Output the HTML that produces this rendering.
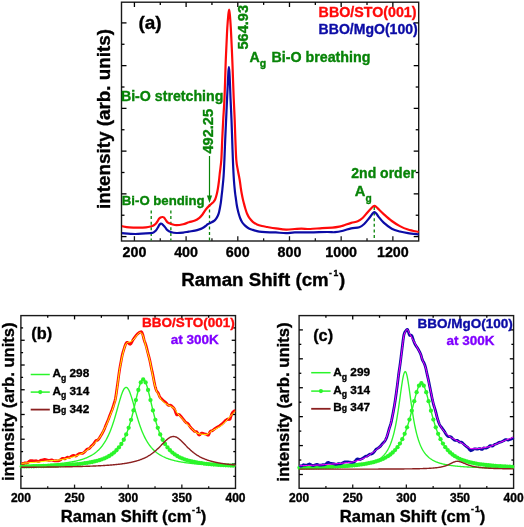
<!DOCTYPE html>
<html><head><meta charset="utf-8"><style>
html,body{margin:0;padding:0;background:#fff;width:524px;height:527px;overflow:hidden}
svg{display:block;font-family:"Liberation Sans", sans-serif;filter:blur(0.3px)}
</style></head><body>
<svg width="524" height="527" viewBox="0 0 524 527">
<rect width="524" height="527" fill="#fff"/>
<rect x="121.5" y="2.2" width="297.2" height="238.8" fill="none" stroke="#1a1a1a" stroke-width="1.4"/>
<line x1="134.42" y1="241" x2="134.42" y2="236.2" stroke="#1a1a1a" stroke-width="1.3"/>
<line x1="134.42" y1="2.2" x2="134.42" y2="7" stroke="#000" stroke-width="1.3"/>
<line x1="186.11" y1="241" x2="186.11" y2="236.2" stroke="#1a1a1a" stroke-width="1.3"/>
<line x1="186.11" y1="2.2" x2="186.11" y2="7" stroke="#000" stroke-width="1.3"/>
<line x1="237.80" y1="241" x2="237.80" y2="236.2" stroke="#1a1a1a" stroke-width="1.3"/>
<line x1="237.80" y1="2.2" x2="237.80" y2="7" stroke="#000" stroke-width="1.3"/>
<line x1="289.48" y1="241" x2="289.48" y2="236.2" stroke="#1a1a1a" stroke-width="1.3"/>
<line x1="289.48" y1="2.2" x2="289.48" y2="7" stroke="#000" stroke-width="1.3"/>
<line x1="341.17" y1="241" x2="341.17" y2="236.2" stroke="#1a1a1a" stroke-width="1.3"/>
<line x1="341.17" y1="2.2" x2="341.17" y2="7" stroke="#000" stroke-width="1.3"/>
<line x1="392.86" y1="241" x2="392.86" y2="236.2" stroke="#1a1a1a" stroke-width="1.3"/>
<line x1="392.86" y1="2.2" x2="392.86" y2="7" stroke="#000" stroke-width="1.3"/>
<line x1="160.27" y1="241" x2="160.27" y2="238.3" stroke="#1a1a1a" stroke-width="1.3"/>
<line x1="160.27" y1="2.2" x2="160.27" y2="4.9" stroke="#000" stroke-width="1.3"/>
<line x1="211.95" y1="241" x2="211.95" y2="238.3" stroke="#1a1a1a" stroke-width="1.3"/>
<line x1="211.95" y1="2.2" x2="211.95" y2="4.9" stroke="#000" stroke-width="1.3"/>
<line x1="263.64" y1="241" x2="263.64" y2="238.3" stroke="#1a1a1a" stroke-width="1.3"/>
<line x1="263.64" y1="2.2" x2="263.64" y2="4.9" stroke="#000" stroke-width="1.3"/>
<line x1="315.33" y1="241" x2="315.33" y2="238.3" stroke="#1a1a1a" stroke-width="1.3"/>
<line x1="315.33" y1="2.2" x2="315.33" y2="4.9" stroke="#000" stroke-width="1.3"/>
<line x1="367.01" y1="241" x2="367.01" y2="238.3" stroke="#1a1a1a" stroke-width="1.3"/>
<line x1="367.01" y1="2.2" x2="367.01" y2="4.9" stroke="#000" stroke-width="1.3"/>
<line x1="121.5" y1="236.60" x2="126.5" y2="236.60" stroke="#000" stroke-width="1.3"/>
<line x1="418.7" y1="236.60" x2="413.7" y2="236.60" stroke="#000" stroke-width="1.3"/>
<line x1="121.5" y1="193.86" x2="126.5" y2="193.86" stroke="#000" stroke-width="1.3"/>
<line x1="418.7" y1="193.86" x2="413.7" y2="193.86" stroke="#000" stroke-width="1.3"/>
<line x1="121.5" y1="151.12" x2="126.5" y2="151.12" stroke="#000" stroke-width="1.3"/>
<line x1="418.7" y1="151.12" x2="413.7" y2="151.12" stroke="#000" stroke-width="1.3"/>
<line x1="121.5" y1="108.38" x2="126.5" y2="108.38" stroke="#000" stroke-width="1.3"/>
<line x1="418.7" y1="108.38" x2="413.7" y2="108.38" stroke="#000" stroke-width="1.3"/>
<line x1="121.5" y1="65.64" x2="126.5" y2="65.64" stroke="#000" stroke-width="1.3"/>
<line x1="418.7" y1="65.64" x2="413.7" y2="65.64" stroke="#000" stroke-width="1.3"/>
<line x1="121.5" y1="22.90" x2="126.5" y2="22.90" stroke="#000" stroke-width="1.3"/>
<line x1="418.7" y1="22.90" x2="413.7" y2="22.90" stroke="#000" stroke-width="1.3"/>
<line x1="121.5" y1="215.23" x2="124.5" y2="215.23" stroke="#000" stroke-width="1.3"/>
<line x1="418.7" y1="215.23" x2="415.7" y2="215.23" stroke="#000" stroke-width="1.3"/>
<line x1="121.5" y1="172.49" x2="124.5" y2="172.49" stroke="#000" stroke-width="1.3"/>
<line x1="418.7" y1="172.49" x2="415.7" y2="172.49" stroke="#000" stroke-width="1.3"/>
<line x1="121.5" y1="129.75" x2="124.5" y2="129.75" stroke="#000" stroke-width="1.3"/>
<line x1="418.7" y1="129.75" x2="415.7" y2="129.75" stroke="#000" stroke-width="1.3"/>
<line x1="121.5" y1="87.01" x2="124.5" y2="87.01" stroke="#000" stroke-width="1.3"/>
<line x1="418.7" y1="87.01" x2="415.7" y2="87.01" stroke="#000" stroke-width="1.3"/>
<line x1="121.5" y1="44.27" x2="124.5" y2="44.27" stroke="#000" stroke-width="1.3"/>
<line x1="418.7" y1="44.27" x2="415.7" y2="44.27" stroke="#000" stroke-width="1.3"/>
<text x="134.422" y="257.4" font-size="14.3" fill="#000" text-anchor="middle" font-weight="bold" stroke="#000" stroke-width="0.35">200</text>
<text x="186.109" y="257.4" font-size="14.3" fill="#000" text-anchor="middle" font-weight="bold" stroke="#000" stroke-width="0.35">400</text>
<text x="237.796" y="257.4" font-size="14.3" fill="#000" text-anchor="middle" font-weight="bold" stroke="#000" stroke-width="0.35">600</text>
<text x="289.483" y="257.4" font-size="14.3" fill="#000" text-anchor="middle" font-weight="bold" stroke="#000" stroke-width="0.35">800</text>
<text x="341.17" y="257.4" font-size="14.3" fill="#000" text-anchor="middle" font-weight="bold" stroke="#000" stroke-width="0.35">1000</text>
<text x="392.857" y="257.4" font-size="14.3" fill="#000" text-anchor="middle" font-weight="bold" stroke="#000" stroke-width="0.35">1200</text>
<line x1="151.22" y1="210.5" x2="151.22" y2="240.5" stroke="#088408" stroke-width="1.3" stroke-dasharray="3,2.6"/>
<line x1="170.86" y1="210.5" x2="170.86" y2="240.5" stroke="#088408" stroke-width="1.3" stroke-dasharray="3,2.6"/>
<line x1="209.50" y1="204" x2="209.50" y2="240.5" stroke="#088408" stroke-width="1.3" stroke-dasharray="3,2.6"/>
<line x1="374.25" y1="207" x2="374.25" y2="240.5" stroke="#088408" stroke-width="1.3" stroke-dasharray="3,2.6"/>
<g fill="none" stroke-width="2.2" stroke-linejoin="round">
<path d="M122.00,226.20 C123.20,226.40 126.23,227.15 129.20,227.40 C132.17,227.65 137.00,227.72 139.80,227.70 C142.60,227.68 144.22,227.50 146.00,227.30 C147.78,227.10 149.25,226.80 150.50,226.50 C151.75,226.20 152.58,226.00 153.50,225.50 C154.42,225.00 155.33,224.20 156.00,223.50 C156.67,222.80 157.00,222.08 157.50,221.30 C158.00,220.52 158.50,219.43 159.00,218.80 C159.50,218.17 159.95,217.80 160.50,217.50 C161.05,217.20 161.75,217.03 162.30,217.00 C162.85,216.97 163.35,217.00 163.80,217.30 C164.25,217.60 164.58,218.22 165.00,218.80 C165.42,219.38 165.87,220.22 166.30,220.80 C166.73,221.38 167.07,221.88 167.60,222.30 C168.13,222.72 168.77,222.97 169.50,223.30 C170.23,223.63 170.83,223.98 172.00,224.30 C173.17,224.62 174.63,225.22 176.50,225.20 C178.37,225.18 181.13,224.68 183.20,224.20 C185.27,223.72 186.93,222.90 188.90,222.30 C190.87,221.70 193.25,221.35 195.00,220.60 C196.75,219.85 198.15,218.82 199.40,217.80 C200.65,216.78 201.43,215.88 202.50,214.50 C203.57,213.12 204.57,211.07 205.80,209.50 C207.03,207.93 208.87,206.13 209.90,205.10 C210.93,204.07 211.38,203.85 212.00,203.30 C212.62,202.75 213.05,202.52 213.60,201.80 C214.15,201.08 214.77,200.30 215.30,199.00 C215.83,197.70 216.37,195.75 216.80,194.00 C217.23,192.25 217.55,190.58 217.90,188.50 C218.25,186.42 218.58,184.08 218.90,181.50 C219.22,178.92 219.40,176.58 219.80,173.00 C220.20,169.42 220.90,165.50 221.30,160.00 C221.70,154.50 221.88,146.67 222.20,140.00 C222.52,133.33 222.82,127.00 223.20,120.00 C223.58,113.00 224.10,107.17 224.50,98.00 C224.90,88.83 225.32,72.90 225.60,65.00 C225.88,57.10 226.02,54.77 226.20,50.60 C226.38,46.43 226.52,43.80 226.70,40.00 C226.88,36.20 227.03,31.97 227.30,27.80 C227.57,23.63 228.00,18.03 228.30,15.00 C228.60,11.97 228.83,9.60 229.10,9.60 C229.37,9.60 229.62,11.97 229.90,15.00 C230.18,18.03 230.55,23.63 230.80,27.80 C231.05,31.97 231.22,36.20 231.40,40.00 C231.58,43.80 231.72,46.43 231.90,50.60 C232.08,54.77 232.20,57.10 232.50,65.00 C232.80,72.90 233.33,88.83 233.70,98.00 C234.07,107.17 234.42,113.00 234.70,120.00 C234.98,127.00 235.13,133.33 235.40,140.00 C235.67,146.67 235.90,155.00 236.30,160.00 C236.70,165.00 237.23,166.67 237.80,170.00 C238.37,173.33 239.20,177.00 239.70,180.00 C240.20,183.00 240.47,185.75 240.80,188.00 C241.13,190.25 241.38,191.75 241.70,193.50 C242.02,195.25 242.35,196.92 242.70,198.50 C243.05,200.08 243.37,201.33 243.80,203.00 C244.23,204.67 244.75,206.70 245.30,208.50 C245.85,210.30 246.40,212.18 247.10,213.80 C247.80,215.42 248.55,216.87 249.50,218.20 C250.45,219.53 251.55,220.77 252.80,221.80 C254.05,222.83 255.48,223.70 257.00,224.40 C258.52,225.10 260.20,225.57 261.90,226.00 C263.60,226.43 264.88,226.60 267.20,227.00 C269.52,227.40 272.65,227.97 275.80,228.40 C278.95,228.83 282.95,229.50 286.10,229.60 C289.25,229.70 292.13,229.17 294.70,229.00 C297.27,228.83 298.93,228.60 301.50,228.60 C304.07,228.60 306.67,229.08 310.10,229.00 C313.53,228.92 318.38,228.32 322.10,228.10 C325.82,227.88 329.53,227.93 332.40,227.70 C335.27,227.47 337.52,227.05 339.30,226.70 C341.08,226.35 341.12,226.23 343.10,225.60 C345.08,224.97 348.77,223.62 351.20,222.90 C353.63,222.18 355.80,222.12 357.70,221.30 C359.60,220.48 360.98,219.47 362.60,218.00 C364.22,216.53 365.92,214.17 367.40,212.50 C368.88,210.83 370.53,209.02 371.50,208.00 C372.47,206.98 372.70,206.75 373.20,206.40 C373.70,206.05 374.05,205.87 374.50,205.90 C374.95,205.93 375.32,206.15 375.90,206.60 C376.48,207.05 376.70,207.35 378.00,208.60 C379.30,209.85 381.40,212.03 383.70,214.10 C386.00,216.17 389.10,219.00 391.80,221.00 C394.50,223.00 397.20,224.68 399.90,226.10 C402.60,227.52 404.87,228.52 408.00,229.50 C411.13,230.48 416.92,231.58 418.70,232.00" stroke="#ff0a0a"/>
<path d="M122.00,233.20 C124.22,233.33 130.55,234.00 135.30,234.00 C140.05,234.00 147.47,233.45 150.50,233.20 C153.53,232.95 152.67,232.88 153.50,232.50 C154.33,232.12 154.92,231.48 155.50,230.90 C156.08,230.32 156.52,229.72 157.00,229.00 C157.48,228.28 157.97,227.35 158.40,226.60 C158.83,225.85 159.20,225.00 159.60,224.50 C160.00,224.00 160.40,223.70 160.80,223.60 C161.20,223.50 161.58,223.62 162.00,223.90 C162.42,224.18 162.80,224.77 163.30,225.30 C163.80,225.83 164.32,226.28 165.00,227.10 C165.68,227.92 166.43,229.38 167.40,230.20 C168.37,231.02 169.28,231.53 170.80,232.00 C172.32,232.47 174.43,232.90 176.50,233.00 C178.57,233.10 181.17,232.83 183.20,232.60 C185.23,232.37 186.73,231.93 188.70,231.60 C190.67,231.27 193.22,230.97 195.00,230.60 C196.78,230.23 198.20,229.80 199.40,229.40 C200.60,229.00 201.17,228.77 202.20,228.20 C203.23,227.63 204.70,226.67 205.60,226.00 C206.50,225.33 206.67,224.78 207.60,224.20 C208.53,223.62 210.15,223.03 211.20,222.50 C212.25,221.97 213.18,221.50 213.90,221.00 C214.62,220.50 215.02,220.07 215.50,219.50 C215.98,218.93 216.37,218.35 216.80,217.60 C217.23,216.85 217.72,215.95 218.10,215.00 C218.48,214.05 218.78,213.15 219.10,211.90 C219.42,210.65 219.72,209.02 220.00,207.50 C220.28,205.98 220.53,204.72 220.80,202.80 C221.07,200.88 221.33,198.30 221.60,196.00 C221.87,193.70 222.07,192.33 222.40,189.00 C222.73,185.67 223.27,180.83 223.60,176.00 C223.93,171.17 224.13,166.00 224.40,160.00 C224.67,154.00 224.92,146.67 225.20,140.00 C225.48,133.33 225.78,127.00 226.10,120.00 C226.42,113.00 226.80,104.33 227.10,98.00 C227.40,91.67 227.68,86.33 227.90,82.00 C228.12,77.67 228.23,74.50 228.40,72.00 C228.57,69.50 228.73,67.00 228.90,67.00 C229.07,67.00 229.23,69.50 229.40,72.00 C229.57,74.50 229.72,77.67 229.90,82.00 C230.08,86.33 230.23,91.67 230.50,98.00 C230.77,104.33 231.22,113.00 231.50,120.00 C231.78,127.00 231.97,133.33 232.20,140.00 C232.43,146.67 232.62,153.33 232.90,160.00 C233.18,166.67 233.53,174.50 233.90,180.00 C234.27,185.50 234.78,190.00 235.10,193.00 C235.42,196.00 235.55,196.17 235.80,198.00 C236.05,199.83 236.32,202.22 236.60,204.00 C236.88,205.78 237.13,207.03 237.50,208.70 C237.87,210.37 238.33,212.37 238.80,214.00 C239.27,215.63 239.72,217.08 240.30,218.50 C240.88,219.92 241.55,221.35 242.30,222.50 C243.05,223.65 243.77,224.45 244.80,225.40 C245.83,226.35 247.17,227.45 248.50,228.20 C249.83,228.95 251.38,229.42 252.80,229.90 C254.22,230.38 255.48,230.78 257.00,231.10 C258.52,231.42 259.75,231.60 261.90,231.80 C264.05,232.00 267.58,232.20 269.90,232.30 C272.22,232.40 273.10,232.25 275.80,232.40 C278.50,232.55 282.95,233.20 286.10,233.20 C289.25,233.20 290.70,232.53 294.70,232.40 C298.70,232.27 304.67,232.47 310.10,232.40 C315.53,232.33 323.15,232.03 327.30,232.00 C331.45,231.97 332.37,232.42 335.00,232.20 C337.63,231.98 340.40,231.35 343.10,230.70 C345.80,230.05 348.50,228.88 351.20,228.30 C353.90,227.72 357.13,227.92 359.30,227.20 C361.47,226.48 362.53,225.53 364.20,224.00 C365.87,222.47 367.93,219.70 369.30,218.00 C370.67,216.30 371.55,214.77 372.40,213.80 C373.25,212.83 373.75,212.27 374.40,212.20 C375.05,212.13 375.62,212.67 376.30,213.40 C376.98,214.13 377.27,215.07 378.50,216.60 C379.73,218.13 381.48,220.58 383.70,222.60 C385.92,224.62 389.10,227.22 391.80,228.70 C394.50,230.18 397.20,230.77 399.90,231.50 C402.60,232.23 404.87,232.63 408.00,233.10 C411.13,233.57 416.92,234.10 418.70,234.30" stroke="#0c0ca6"/>
</g>
<line x1="209.5" y1="156" x2="209.5" y2="197" stroke="#088408" stroke-width="1.2"/>
<path d="M206.9,195.6 L212.1,195.6 L209.5,203 Z" fill="#088408"/>
<text x="138.4" y="28.5" font-size="19" fill="#000" text-anchor="start" font-weight="bold" stroke="#000" stroke-width="0.35">(a)</text>
<text x="318.6" y="16.6" font-size="14.25" fill="#ff0a0a" text-anchor="start" font-weight="bold" stroke="#ff0a0a" stroke-width="0.35">BBO/STO(001)</text>
<text x="318.6" y="34.4" font-size="14.05" fill="#0c0ca6" text-anchor="start" font-weight="bold" stroke="#0c0ca6" stroke-width="0.35">BBO/MgO(100)</text>
<text x="120.9" y="100.6" font-size="14.2" fill="#088408" text-anchor="start" font-weight="bold" stroke="#088408" stroke-width="0.35">Bi-O stretching</text>
<text x="121.8" y="204.5" font-size="13.2" fill="#088408" text-anchor="start" font-weight="bold" stroke="#088408" stroke-width="0.35">Bi-O bending</text>
<text x="351.3" y="177.6" font-size="14" fill="#088408" text-anchor="start" font-weight="bold" stroke="#088408" stroke-width="0.35">2nd order</text>
<text x="354.8" y="196" font-size="14.7" fill="#088408" font-weight="bold" stroke="#088408" stroke-width="0.35">A<tspan font-size="10.2" dx="0.2" dy="6.0">g</tspan></text>
<text x="249.4" y="61.6" font-size="14.2" fill="#088408" font-weight="bold" stroke="#088408" stroke-width="0.35">A<tspan font-size="10.5" dy="5.6">g</tspan><tspan dx="1.4" dy="-5.6" font-size="14.25"> Bi-O breathing</tspan></text>
<text x="248" y="49.6" font-size="14.6" fill="#088408" text-anchor="start" transform="rotate(-90 248 49.6)" font-weight="bold" stroke="#088408" stroke-width="0.35">564.93</text>
<text x="213.3" y="153.6" font-size="14.6" fill="#088408" text-anchor="start" transform="rotate(-90 213.3 153.6)" font-weight="bold" stroke="#088408" stroke-width="0.35">492.25</text>
<text x="110.3" y="209" font-size="18.85" fill="#000" text-anchor="start" transform="rotate(-90 110.3 209)" font-weight="bold" stroke="#000" stroke-width="0.35">intensity (arb. units)</text>
<text x="181.2" y="285.5" font-size="18.7" font-weight="bold" stroke="#000" stroke-width="0.35">Raman Shift (cm<tspan font-size="8.6" dx="0.3" dy="-10">-</tspan><tspan font-size="8.6" dx="1.6">1</tspan><tspan dx="0.9" dy="10">)</tspan></text>
<rect x="20.9" y="315.6" width="214.6" height="172.8" fill="none" stroke="#1a1a1a" stroke-width="1.4"/>
<line x1="74.55" y1="488.4" x2="74.55" y2="484.6" stroke="#1a1a1a" stroke-width="1.3"/>
<line x1="74.55" y1="315.6" x2="74.55" y2="319.4" stroke="#000" stroke-width="1.3"/>
<line x1="128.20" y1="488.4" x2="128.20" y2="484.6" stroke="#1a1a1a" stroke-width="1.3"/>
<line x1="128.20" y1="315.6" x2="128.20" y2="319.4" stroke="#000" stroke-width="1.3"/>
<line x1="181.85" y1="488.4" x2="181.85" y2="484.6" stroke="#1a1a1a" stroke-width="1.3"/>
<line x1="181.85" y1="315.6" x2="181.85" y2="319.4" stroke="#000" stroke-width="1.3"/>
<line x1="47.72" y1="488.4" x2="47.72" y2="486.2" stroke="#1a1a1a" stroke-width="1.3"/>
<line x1="47.72" y1="315.6" x2="47.72" y2="317.8" stroke="#000" stroke-width="1.3"/>
<line x1="101.38" y1="488.4" x2="101.38" y2="486.2" stroke="#1a1a1a" stroke-width="1.3"/>
<line x1="101.38" y1="315.6" x2="101.38" y2="317.8" stroke="#000" stroke-width="1.3"/>
<line x1="155.03" y1="488.4" x2="155.03" y2="486.2" stroke="#1a1a1a" stroke-width="1.3"/>
<line x1="155.03" y1="315.6" x2="155.03" y2="317.8" stroke="#000" stroke-width="1.3"/>
<line x1="208.68" y1="488.4" x2="208.68" y2="486.2" stroke="#1a1a1a" stroke-width="1.3"/>
<line x1="208.68" y1="315.6" x2="208.68" y2="317.8" stroke="#000" stroke-width="1.3"/>
<line x1="20.9" y1="340.27" x2="24.7" y2="340.27" stroke="#000" stroke-width="1.3"/>
<line x1="235.5" y1="340.27" x2="231.7" y2="340.27" stroke="#000" stroke-width="1.3"/>
<line x1="20.9" y1="365.01" x2="24.7" y2="365.01" stroke="#000" stroke-width="1.3"/>
<line x1="235.5" y1="365.01" x2="231.7" y2="365.01" stroke="#000" stroke-width="1.3"/>
<line x1="20.9" y1="389.75" x2="24.7" y2="389.75" stroke="#000" stroke-width="1.3"/>
<line x1="235.5" y1="389.75" x2="231.7" y2="389.75" stroke="#000" stroke-width="1.3"/>
<line x1="20.9" y1="414.49" x2="24.7" y2="414.49" stroke="#000" stroke-width="1.3"/>
<line x1="235.5" y1="414.49" x2="231.7" y2="414.49" stroke="#000" stroke-width="1.3"/>
<line x1="20.9" y1="439.23" x2="24.7" y2="439.23" stroke="#000" stroke-width="1.3"/>
<line x1="235.5" y1="439.23" x2="231.7" y2="439.23" stroke="#000" stroke-width="1.3"/>
<line x1="20.9" y1="463.97" x2="24.7" y2="463.97" stroke="#000" stroke-width="1.3"/>
<line x1="235.5" y1="463.97" x2="231.7" y2="463.97" stroke="#000" stroke-width="1.3"/>
<line x1="20.9" y1="327.90" x2="23.1" y2="327.90" stroke="#000" stroke-width="1.3"/>
<line x1="235.5" y1="327.90" x2="233.3" y2="327.90" stroke="#000" stroke-width="1.3"/>
<line x1="20.9" y1="352.64" x2="23.1" y2="352.64" stroke="#000" stroke-width="1.3"/>
<line x1="235.5" y1="352.64" x2="233.3" y2="352.64" stroke="#000" stroke-width="1.3"/>
<line x1="20.9" y1="377.38" x2="23.1" y2="377.38" stroke="#000" stroke-width="1.3"/>
<line x1="235.5" y1="377.38" x2="233.3" y2="377.38" stroke="#000" stroke-width="1.3"/>
<line x1="20.9" y1="402.12" x2="23.1" y2="402.12" stroke="#000" stroke-width="1.3"/>
<line x1="235.5" y1="402.12" x2="233.3" y2="402.12" stroke="#000" stroke-width="1.3"/>
<line x1="20.9" y1="426.86" x2="23.1" y2="426.86" stroke="#000" stroke-width="1.3"/>
<line x1="235.5" y1="426.86" x2="233.3" y2="426.86" stroke="#000" stroke-width="1.3"/>
<line x1="20.9" y1="451.60" x2="23.1" y2="451.60" stroke="#000" stroke-width="1.3"/>
<line x1="235.5" y1="451.60" x2="233.3" y2="451.60" stroke="#000" stroke-width="1.3"/>
<line x1="20.9" y1="476.34" x2="23.1" y2="476.34" stroke="#000" stroke-width="1.3"/>
<line x1="235.5" y1="476.34" x2="233.3" y2="476.34" stroke="#000" stroke-width="1.3"/>
<text x="20.9" y="501.7" font-size="12" fill="#000" text-anchor="middle" font-weight="bold" stroke="#000" stroke-width="0.35">200</text>
<text x="74.55" y="501.7" font-size="12" fill="#000" text-anchor="middle" font-weight="bold" stroke="#000" stroke-width="0.35">250</text>
<text x="128.2" y="501.7" font-size="12" fill="#000" text-anchor="middle" font-weight="bold" stroke="#000" stroke-width="0.35">300</text>
<text x="181.85" y="501.7" font-size="12" fill="#000" text-anchor="middle" font-weight="bold" stroke="#000" stroke-width="0.35">350</text>
<text x="235.5" y="501.7" font-size="12" fill="#000" text-anchor="middle" font-weight="bold" stroke="#000" stroke-width="0.35">400</text>
<path d="M20.90,465.63 L21.40,465.62 L21.90,465.61 L22.40,465.59 L22.90,465.58 L23.40,465.56 L23.90,465.55 L24.40,465.53 L24.90,465.52 L25.40,465.50 L25.90,465.49 L26.40,465.47 L26.90,465.46 L27.40,465.44 L27.90,465.42 L28.40,465.41 L28.90,465.39 L29.40,465.37 L29.90,465.35 L30.40,465.34 L30.90,465.32 L31.40,465.30 L31.90,465.28 L32.40,465.26 L32.90,465.24 L33.40,465.22 L33.90,465.20 L34.40,465.18 L34.90,465.16 L35.40,465.14 L35.90,465.12 L36.40,465.10 L36.90,465.08 L37.40,465.05 L37.90,465.03 L38.40,465.01 L38.90,464.98 L39.40,464.96 L39.90,464.94 L40.40,464.91 L40.90,464.89 L41.40,464.86 L41.90,464.84 L42.40,464.81 L42.90,464.78 L43.40,464.75 L43.90,464.73 L44.40,464.70 L44.90,464.67 L45.40,464.64 L45.90,464.61 L46.40,464.58 L46.90,464.55 L47.40,464.52 L47.90,464.49 L48.40,464.45 L48.90,464.42 L49.40,464.39 L49.90,464.35 L50.40,464.32 L50.90,464.28 L51.40,464.24 L51.90,464.21 L52.40,464.17 L52.90,464.13 L53.40,464.09 L53.90,464.05 L54.40,464.01 L54.90,463.97 L55.40,463.93 L55.90,463.88 L56.40,463.84 L56.90,463.79 L57.40,463.75 L57.90,463.70 L58.40,463.65 L58.90,463.60 L59.40,463.55 L59.90,463.50 L60.40,463.45 L60.90,463.39 L61.40,463.34 L61.90,463.28 L62.40,463.23 L62.90,463.17 L63.40,463.11 L63.90,463.05 L64.40,462.98 L64.90,462.92 L65.40,462.85 L65.90,462.79 L66.40,462.72 L66.90,462.65 L67.40,462.58 L67.90,462.50 L68.40,462.43 L68.90,462.35 L69.40,462.27 L69.90,462.19 L70.40,462.11 L70.90,462.02 L71.40,461.93 L71.90,461.85 L72.40,461.75 L72.90,461.66 L73.40,461.56 L73.90,461.46 L74.40,461.36 L74.90,461.26 L75.40,461.15 L75.90,461.04 L76.40,460.93 L76.90,460.81 L77.40,460.69 L77.90,460.57 L78.40,460.44 L78.90,460.31 L79.40,460.18 L79.90,460.04 L80.40,459.90 L80.90,459.76 L81.40,459.61 L81.90,459.45 L82.40,459.29 L82.90,459.13 L83.40,458.96 L83.90,458.79 L84.40,458.61 L84.90,458.42 L85.40,458.23 L85.90,458.04 L86.40,457.83 L86.90,457.62 L87.40,457.41 L87.90,457.18 L88.40,456.95 L88.90,456.71 L89.40,456.47 L89.90,456.21 L90.40,455.95 L90.90,455.67 L91.40,455.39 L91.90,455.10 L92.40,454.79 L92.90,454.48 L93.40,454.15 L93.90,453.82 L94.40,453.47 L94.90,453.10 L95.40,452.73 L95.90,452.34 L96.40,451.93 L96.90,451.51 L97.40,451.07 L97.90,450.62 L98.40,450.14 L98.90,449.65 L99.40,449.14 L99.90,448.61 L100.40,448.06 L100.90,447.48 L101.40,446.88 L101.90,446.26 L102.40,445.61 L102.90,444.93 L103.40,444.23 L103.90,443.50 L104.40,442.73 L104.90,441.94 L105.40,441.11 L105.90,440.24 L106.40,439.35 L106.90,438.41 L107.40,437.43 L107.90,436.42 L108.40,435.36 L108.90,434.26 L109.40,433.11 L109.90,431.92 L110.40,430.69 L110.90,429.40 L111.40,428.07 L111.90,426.69 L112.40,425.27 L112.90,423.79 L113.40,422.27 L113.90,420.70 L114.40,419.09 L114.90,417.44 L115.40,415.75 L115.90,414.03 L116.40,412.28 L116.90,410.50 L117.40,408.71 L117.90,406.92 L118.40,405.12 L118.90,403.34 L119.40,401.58 L119.90,399.86 L120.40,398.20 L120.90,396.59 L121.40,395.07 L121.90,393.65 L122.40,392.34 L122.90,391.15 L123.40,390.11 L123.90,389.22 L124.40,388.50 L124.90,387.95 L125.40,387.59 L125.90,387.42 L126.40,387.43 L126.90,387.65 L127.40,388.04 L127.90,388.63 L128.40,389.38 L128.90,390.30 L129.40,391.38 L129.90,392.59 L130.40,393.92 L130.90,395.37 L131.40,396.91 L131.90,398.52 L132.40,400.20 L132.90,401.93 L133.40,403.69 L133.90,405.48 L134.40,407.28 L134.90,409.07 L135.40,410.86 L135.90,412.63 L136.40,414.38 L136.90,416.09 L137.40,417.77 L137.90,419.42 L138.40,421.02 L138.90,422.58 L139.40,424.09 L139.90,425.56 L140.40,426.97 L140.90,428.34 L141.40,429.66 L141.90,430.94 L142.40,432.16 L142.90,433.34 L143.40,434.48 L143.90,435.57 L144.40,436.62 L144.90,437.63 L145.40,438.60 L145.90,439.53 L146.40,440.42 L146.90,441.28 L147.40,442.10 L147.90,442.89 L148.40,443.65 L148.90,444.37 L149.40,445.07 L149.90,445.74 L150.40,446.39 L150.90,447.00 L151.40,447.60 L151.90,448.17 L152.40,448.72 L152.90,449.24 L153.40,449.75 L153.90,450.24 L154.40,450.71 L154.90,451.16 L155.40,451.59 L155.90,452.01 L156.40,452.42 L156.90,452.80 L157.40,453.18 L157.90,453.54 L158.40,453.89 L158.90,454.22 L159.40,454.54 L159.90,454.86 L160.40,455.16 L160.90,455.45 L161.40,455.73 L161.90,456.00 L162.40,456.26 L162.90,456.52 L163.40,456.76 L163.90,457.00 L164.40,457.23 L164.90,457.45 L165.40,457.67 L165.90,457.87 L166.40,458.08 L166.90,458.27 L167.40,458.46 L167.90,458.64 L168.40,458.82 L168.90,459.00 L169.40,459.16 L169.90,459.33 L170.40,459.48 L170.90,459.64 L171.40,459.79 L171.90,459.93 L172.40,460.07 L172.90,460.21 L173.40,460.34 L173.90,460.47 L174.40,460.59 L174.90,460.72 L175.40,460.83 L175.90,460.95 L176.40,461.06 L176.90,461.17 L177.40,461.28 L177.90,461.38 L178.40,461.48 L178.90,461.58 L179.40,461.68 L179.90,461.77 L180.40,461.86 L180.90,461.95 L181.40,462.04 L181.90,462.12 L182.40,462.21 L182.90,462.29 L183.40,462.37 L183.90,462.44 L184.40,462.52 L184.90,462.59 L185.40,462.66 L185.90,462.73 L186.40,462.80 L186.90,462.87 L187.40,462.93 L187.90,463.00 L188.40,463.06 L188.90,463.12 L189.40,463.18 L189.90,463.24 L190.40,463.29 L190.90,463.35 L191.40,463.40 L191.90,463.46 L192.40,463.51 L192.90,463.56 L193.40,463.61 L193.90,463.66 L194.40,463.71 L194.90,463.76 L195.40,463.80 L195.90,463.85 L196.40,463.89 L196.90,463.93 L197.40,463.98 L197.90,464.02 L198.40,464.06 L198.90,464.10 L199.40,464.14 L199.90,464.18 L200.40,464.21 L200.90,464.25 L201.40,464.29 L201.90,464.32 L202.40,464.36 L202.90,464.39 L203.40,464.43 L203.90,464.46 L204.40,464.49 L204.90,464.52 L205.40,464.56 L205.90,464.59 L206.40,464.62 L206.90,464.65 L207.40,464.68 L207.90,464.70 L208.40,464.73 L208.90,464.76 L209.40,464.79 L209.90,464.81 L210.40,464.84 L210.90,464.87 L211.40,464.89 L211.90,464.92 L212.40,464.94 L212.90,464.97 L213.40,464.99 L213.90,465.01 L214.40,465.04 L214.90,465.06 L215.40,465.08 L215.90,465.10 L216.40,465.12 L216.90,465.14 L217.40,465.17 L217.90,465.19 L218.40,465.21 L218.90,465.23 L219.40,465.25 L219.90,465.26 L220.40,465.28 L220.90,465.30 L221.40,465.32 L221.90,465.34 L222.40,465.36 L222.90,465.37 L223.40,465.39 L223.90,465.41 L224.40,465.43 L224.90,465.44 L225.40,465.46 L225.90,465.47 L226.40,465.49 L226.90,465.51 L227.40,465.52 L227.90,465.54 L228.40,465.55 L228.90,465.57 L229.40,465.58 L229.90,465.60 L230.40,465.61 L230.90,465.62 L231.40,465.64 L231.90,465.65 L232.40,465.66 L232.90,465.68 L233.40,465.69 L233.90,465.70 L234.40,465.72 L234.90,465.73 L235.40,465.74" fill="none" stroke="#2af52a" stroke-width="1.35"/>
<path d="M20.90,466.49 L21.40,466.48 L21.90,466.47 L22.40,466.46 L22.90,466.45 L23.40,466.44 L23.90,466.44 L24.40,466.43 L24.90,466.42 L25.40,466.41 L25.90,466.40 L26.40,466.39 L26.90,466.38 L27.40,466.37 L27.90,466.36 L28.40,466.35 L28.90,466.34 L29.40,466.33 L29.90,466.32 L30.40,466.31 L30.90,466.30 L31.40,466.29 L31.90,466.28 L32.40,466.27 L32.90,466.26 L33.40,466.25 L33.90,466.23 L34.40,466.22 L34.90,466.21 L35.40,466.20 L35.90,466.19 L36.40,466.18 L36.90,466.16 L37.40,466.15 L37.90,466.14 L38.40,466.13 L38.90,466.11 L39.40,466.10 L39.90,466.09 L40.40,466.07 L40.90,466.06 L41.40,466.04 L41.90,466.03 L42.40,466.02 L42.90,466.00 L43.40,465.99 L43.90,465.97 L44.40,465.96 L44.90,465.94 L45.40,465.93 L45.90,465.91 L46.40,465.89 L46.90,465.88 L47.40,465.86 L47.90,465.84 L48.40,465.83 L48.90,465.81 L49.40,465.79 L49.90,465.77 L50.40,465.75 L50.90,465.74 L51.40,465.72 L51.90,465.70 L52.40,465.68 L52.90,465.66 L53.40,465.64 L53.90,465.62 L54.40,465.60 L54.90,465.58 L55.40,465.55 L55.90,465.53 L56.40,465.51 L56.90,465.49 L57.40,465.47 L57.90,465.44 L58.40,465.42 L58.90,465.39 L59.40,465.37 L59.90,465.34 L60.40,465.32 L60.90,465.29 L61.40,465.27 L61.90,465.24 L62.40,465.21 L62.90,465.18 L63.40,465.16 L63.90,465.13 L64.40,465.10 L64.90,465.07 L65.40,465.04 L65.90,465.01 L66.40,464.97 L66.90,464.94 L67.40,464.91 L67.90,464.88 L68.40,464.84 L68.90,464.81 L69.40,464.77 L69.90,464.74 L70.40,464.70 L70.90,464.66 L71.40,464.62 L71.90,464.58 L72.40,464.54 L72.90,464.50 L73.40,464.46 L73.90,464.42 L74.40,464.38 L74.90,464.33 L75.40,464.29 L75.90,464.24 L76.40,464.19 L76.90,464.14 L77.40,464.10 L77.90,464.05 L78.40,463.99 L78.90,463.94 L79.40,463.89 L79.90,463.83 L80.40,463.78 L80.90,463.72 L81.40,463.66 L81.90,463.60 L82.40,463.54 L82.90,463.48 L83.40,463.41 L83.90,463.35 L84.40,463.28 L84.90,463.21 L85.40,463.14 L85.90,463.07 L86.40,462.99 L86.90,462.91 L87.40,462.84 L87.90,462.76 L88.40,462.67 L88.90,462.59 L89.40,462.50 L89.90,462.41 L90.40,462.32 L90.90,462.23 L91.40,462.13 L91.90,462.04 L92.40,461.93 L92.90,461.83 L93.40,461.72 L93.90,461.61 L94.40,461.50 L94.90,461.38 L95.40,461.26 L95.90,461.14 L96.40,461.02 L96.90,460.88 L97.40,460.75 L97.90,460.61 L98.40,460.47 L98.90,460.32 L99.40,460.17 L99.90,460.02 L100.40,459.86 L100.90,459.69 L101.40,459.52 L101.90,459.34 L102.40,459.16 L102.90,458.97 L103.40,458.78 L103.90,458.58 L104.40,458.37 L104.90,458.16 L105.40,457.94 L105.90,457.71 L106.40,457.47 L106.90,457.22 L107.40,456.97 L107.90,456.70 L108.40,456.43 L108.90,456.15 L109.40,455.85 L109.90,455.55 L110.40,455.23 L110.90,454.91 L111.40,454.57 L111.90,454.21 L112.40,453.84 L112.90,453.46 L113.40,453.07 L113.90,452.65 L114.40,452.22 L114.90,451.78 L115.40,451.31 L115.90,450.83 L116.40,450.32 L116.90,449.79 L117.40,449.24 L117.90,448.67 L118.40,448.07 L118.90,447.45 L119.40,446.80 L119.90,446.12 L120.40,445.41 L120.90,444.67 L121.40,443.89 L121.90,443.08 L122.40,442.23 L122.90,441.35 L123.40,440.42 L123.90,439.45 L124.40,438.44 L124.90,437.38 L125.40,436.28 L125.90,435.12 L126.40,433.91 L126.90,432.65 L127.40,431.33 L127.90,429.95 L128.40,428.51 L128.90,427.01 L129.40,425.45 L129.90,423.83 L130.40,422.15 L130.90,420.40 L131.40,418.59 L131.90,416.72 L132.40,414.79 L132.90,412.80 L133.40,410.77 L133.90,408.69 L134.40,406.58 L134.90,404.43 L135.40,402.27 L135.90,400.11 L136.40,397.96 L136.90,395.83 L137.40,393.74 L137.90,391.72 L138.40,389.78 L138.90,387.94 L139.40,386.23 L139.90,384.68 L140.40,383.29 L140.90,382.09 L141.40,381.11 L141.90,380.35 L142.40,379.82 L142.90,379.55 L143.40,379.52 L143.90,379.75 L144.40,380.22 L144.90,380.94 L145.40,381.88 L145.90,383.03 L146.40,384.38 L146.90,385.91 L147.40,387.59 L147.90,389.40 L148.40,391.32 L148.90,393.33 L149.40,395.41 L149.90,397.53 L150.40,399.68 L150.90,401.84 L151.40,404.00 L151.90,406.15 L152.40,408.27 L152.90,410.36 L153.40,412.40 L153.90,414.39 L154.40,416.34 L154.90,418.22 L155.40,420.04 L155.90,421.80 L156.40,423.50 L156.90,425.14 L157.40,426.71 L157.90,428.22 L158.40,429.67 L158.90,431.06 L159.40,432.39 L159.90,433.66 L160.40,434.88 L160.90,436.05 L161.40,437.17 L161.90,438.23 L162.40,439.26 L162.90,440.23 L163.40,441.17 L163.90,442.06 L164.40,442.92 L164.90,443.73 L165.40,444.51 L165.90,445.26 L166.40,445.98 L166.90,446.66 L167.40,447.32 L167.90,447.95 L168.40,448.55 L168.90,449.13 L169.40,449.68 L169.90,450.22 L170.40,450.73 L170.90,451.21 L171.40,451.68 L171.90,452.14 L172.40,452.57 L172.90,452.98 L173.40,453.38 L173.90,453.77 L174.40,454.14 L174.90,454.50 L175.40,454.84 L175.90,455.17 L176.40,455.49 L176.90,455.79 L177.40,456.09 L177.90,456.38 L178.40,456.65 L178.90,456.92 L179.40,457.17 L179.90,457.42 L180.40,457.66 L180.90,457.89 L181.40,458.11 L181.90,458.33 L182.40,458.54 L182.90,458.74 L183.40,458.94 L183.90,459.12 L184.40,459.31 L184.90,459.49 L185.40,459.66 L185.90,459.82 L186.40,459.99 L186.90,460.14 L187.40,460.29 L187.90,460.44 L188.40,460.58 L188.90,460.72 L189.40,460.86 L189.90,460.99 L190.40,461.12 L190.90,461.24 L191.40,461.36 L191.90,461.48 L192.40,461.59 L192.90,461.70 L193.40,461.81 L193.90,461.91 L194.40,462.02 L194.90,462.11 L195.40,462.21 L195.90,462.31 L196.40,462.40 L196.90,462.49 L197.40,462.57 L197.90,462.66 L198.40,462.74 L198.90,462.82 L199.40,462.90 L199.90,462.98 L200.40,463.05 L200.90,463.12 L201.40,463.19 L201.90,463.26 L202.40,463.33 L202.90,463.40 L203.40,463.46 L203.90,463.53 L204.40,463.59 L204.90,463.65 L205.40,463.71 L205.90,463.77 L206.40,463.82 L206.90,463.88 L207.40,463.93 L207.90,463.98 L208.40,464.04 L208.90,464.09 L209.40,464.14 L209.90,464.18 L210.40,464.23 L210.90,464.28 L211.40,464.32 L211.90,464.37 L212.40,464.41 L212.90,464.45 L213.40,464.49 L213.90,464.54 L214.40,464.58 L214.90,464.62 L215.40,464.65 L215.90,464.69 L216.40,464.73 L216.90,464.76 L217.40,464.80 L217.90,464.84 L218.40,464.87 L218.90,464.90 L219.40,464.94 L219.90,464.97 L220.40,465.00 L220.90,465.03 L221.40,465.06 L221.90,465.09 L222.40,465.12 L222.90,465.15 L223.40,465.18 L223.90,465.21 L224.40,465.23 L224.90,465.26 L225.40,465.29 L225.90,465.31 L226.40,465.34 L226.90,465.36 L227.40,465.39 L227.90,465.41 L228.40,465.44 L228.90,465.46 L229.40,465.48 L229.90,465.51 L230.40,465.53 L230.90,465.55 L231.40,465.57 L231.90,465.59 L232.40,465.61 L232.90,465.63 L233.40,465.65 L233.90,465.67 L234.40,465.69 L234.90,465.71 L235.40,465.73" fill="none" stroke="#2af52a" stroke-width="1.4"/>
<circle cx="21.70" cy="466.47" r="2.15" fill="#2af52a"/>
<circle cx="24.13" cy="466.43" r="2.15" fill="#2af52a"/>
<circle cx="26.56" cy="466.39" r="2.15" fill="#2af52a"/>
<circle cx="28.99" cy="466.34" r="2.15" fill="#2af52a"/>
<circle cx="31.42" cy="466.29" r="2.15" fill="#2af52a"/>
<circle cx="33.85" cy="466.24" r="2.15" fill="#2af52a"/>
<circle cx="36.28" cy="466.18" r="2.15" fill="#2af52a"/>
<circle cx="38.71" cy="466.12" r="2.15" fill="#2af52a"/>
<circle cx="41.14" cy="466.05" r="2.15" fill="#2af52a"/>
<circle cx="43.57" cy="465.98" r="2.15" fill="#2af52a"/>
<circle cx="46.00" cy="465.91" r="2.15" fill="#2af52a"/>
<circle cx="48.43" cy="465.83" r="2.15" fill="#2af52a"/>
<circle cx="50.86" cy="465.74" r="2.15" fill="#2af52a"/>
<circle cx="53.29" cy="465.64" r="2.15" fill="#2af52a"/>
<circle cx="55.72" cy="465.54" r="2.15" fill="#2af52a"/>
<circle cx="58.15" cy="465.43" r="2.15" fill="#2af52a"/>
<circle cx="60.58" cy="465.31" r="2.15" fill="#2af52a"/>
<circle cx="63.01" cy="465.18" r="2.15" fill="#2af52a"/>
<circle cx="65.44" cy="465.04" r="2.15" fill="#2af52a"/>
<circle cx="67.87" cy="464.88" r="2.15" fill="#2af52a"/>
<circle cx="70.30" cy="464.71" r="2.15" fill="#2af52a"/>
<circle cx="72.73" cy="464.52" r="2.15" fill="#2af52a"/>
<circle cx="75.16" cy="464.31" r="2.15" fill="#2af52a"/>
<circle cx="77.59" cy="464.08" r="2.15" fill="#2af52a"/>
<circle cx="80.02" cy="463.82" r="2.15" fill="#2af52a"/>
<circle cx="82.45" cy="463.53" r="2.15" fill="#2af52a"/>
<circle cx="84.88" cy="463.21" r="2.15" fill="#2af52a"/>
<circle cx="87.31" cy="462.85" r="2.15" fill="#2af52a"/>
<circle cx="89.74" cy="462.44" r="2.15" fill="#2af52a"/>
<circle cx="92.17" cy="461.98" r="2.15" fill="#2af52a"/>
<circle cx="94.60" cy="461.45" r="2.15" fill="#2af52a"/>
<circle cx="97.03" cy="460.85" r="2.15" fill="#2af52a"/>
<circle cx="99.46" cy="460.15" r="2.15" fill="#2af52a"/>
<circle cx="101.89" cy="459.35" r="2.15" fill="#2af52a"/>
<circle cx="104.32" cy="458.41" r="2.15" fill="#2af52a"/>
<circle cx="106.75" cy="457.30" r="2.15" fill="#2af52a"/>
<circle cx="109.18" cy="455.99" r="2.15" fill="#2af52a"/>
<circle cx="111.61" cy="454.42" r="2.15" fill="#2af52a"/>
<circle cx="114.04" cy="452.53" r="2.15" fill="#2af52a"/>
<circle cx="116.47" cy="450.25" r="2.15" fill="#2af52a"/>
<circle cx="118.90" cy="447.45" r="2.15" fill="#2af52a"/>
<circle cx="121.33" cy="444.00" r="2.15" fill="#2af52a"/>
<circle cx="123.76" cy="439.73" r="2.15" fill="#2af52a"/>
<circle cx="126.19" cy="434.42" r="2.15" fill="#2af52a"/>
<circle cx="128.62" cy="427.86" r="2.15" fill="#2af52a"/>
<circle cx="131.05" cy="419.86" r="2.15" fill="#2af52a"/>
<circle cx="133.48" cy="410.44" r="2.15" fill="#2af52a"/>
<circle cx="135.91" cy="400.07" r="2.15" fill="#2af52a"/>
<circle cx="138.34" cy="390.01" r="2.15" fill="#2af52a"/>
<circle cx="140.77" cy="382.38" r="2.15" fill="#2af52a"/>
<circle cx="143.20" cy="379.50" r="2.15" fill="#2af52a"/>
<circle cx="145.63" cy="382.38" r="2.15" fill="#2af52a"/>
<circle cx="148.06" cy="390.01" r="2.15" fill="#2af52a"/>
<circle cx="150.49" cy="400.07" r="2.15" fill="#2af52a"/>
<circle cx="152.92" cy="410.44" r="2.15" fill="#2af52a"/>
<circle cx="155.35" cy="419.86" r="2.15" fill="#2af52a"/>
<circle cx="157.78" cy="427.86" r="2.15" fill="#2af52a"/>
<circle cx="160.21" cy="434.42" r="2.15" fill="#2af52a"/>
<circle cx="162.64" cy="439.73" r="2.15" fill="#2af52a"/>
<circle cx="165.07" cy="444.00" r="2.15" fill="#2af52a"/>
<circle cx="167.50" cy="447.45" r="2.15" fill="#2af52a"/>
<circle cx="169.93" cy="450.25" r="2.15" fill="#2af52a"/>
<circle cx="172.36" cy="452.53" r="2.15" fill="#2af52a"/>
<circle cx="174.79" cy="454.42" r="2.15" fill="#2af52a"/>
<circle cx="177.22" cy="455.99" r="2.15" fill="#2af52a"/>
<circle cx="179.65" cy="457.30" r="2.15" fill="#2af52a"/>
<circle cx="182.08" cy="458.41" r="2.15" fill="#2af52a"/>
<circle cx="184.51" cy="459.35" r="2.15" fill="#2af52a"/>
<circle cx="186.94" cy="460.15" r="2.15" fill="#2af52a"/>
<circle cx="189.37" cy="460.85" r="2.15" fill="#2af52a"/>
<circle cx="191.80" cy="461.45" r="2.15" fill="#2af52a"/>
<circle cx="194.23" cy="461.98" r="2.15" fill="#2af52a"/>
<circle cx="196.66" cy="462.44" r="2.15" fill="#2af52a"/>
<circle cx="199.09" cy="462.85" r="2.15" fill="#2af52a"/>
<circle cx="201.52" cy="463.21" r="2.15" fill="#2af52a"/>
<circle cx="203.95" cy="463.53" r="2.15" fill="#2af52a"/>
<circle cx="206.38" cy="463.82" r="2.15" fill="#2af52a"/>
<circle cx="208.81" cy="464.08" r="2.15" fill="#2af52a"/>
<circle cx="211.24" cy="464.31" r="2.15" fill="#2af52a"/>
<circle cx="213.67" cy="464.52" r="2.15" fill="#2af52a"/>
<circle cx="216.10" cy="464.71" r="2.15" fill="#2af52a"/>
<circle cx="218.53" cy="464.88" r="2.15" fill="#2af52a"/>
<circle cx="220.96" cy="465.04" r="2.15" fill="#2af52a"/>
<circle cx="223.39" cy="465.18" r="2.15" fill="#2af52a"/>
<circle cx="225.82" cy="465.31" r="2.15" fill="#2af52a"/>
<circle cx="228.25" cy="465.43" r="2.15" fill="#2af52a"/>
<circle cx="230.68" cy="465.54" r="2.15" fill="#2af52a"/>
<circle cx="233.11" cy="465.64" r="2.15" fill="#2af52a"/>
<path d="M20.90,467.30 L21.40,467.29 L21.90,467.29 L22.40,467.29 L22.90,467.28 L23.40,467.28 L23.90,467.28 L24.40,467.27 L24.90,467.27 L25.40,467.27 L25.90,467.26 L26.40,467.26 L26.90,467.26 L27.40,467.25 L27.90,467.25 L28.40,467.24 L28.90,467.24 L29.40,467.24 L29.90,467.23 L30.40,467.23 L30.90,467.22 L31.40,467.22 L31.90,467.22 L32.40,467.21 L32.90,467.21 L33.40,467.20 L33.90,467.20 L34.40,467.20 L34.90,467.19 L35.40,467.19 L35.90,467.18 L36.40,467.18 L36.90,467.17 L37.40,467.17 L37.90,467.16 L38.40,467.16 L38.90,467.16 L39.40,467.15 L39.90,467.15 L40.40,467.14 L40.90,467.14 L41.40,467.13 L41.90,467.13 L42.40,467.12 L42.90,467.12 L43.40,467.11 L43.90,467.11 L44.40,467.10 L44.90,467.10 L45.40,467.09 L45.90,467.08 L46.40,467.08 L46.90,467.07 L47.40,467.07 L47.90,467.06 L48.40,467.06 L48.90,467.05 L49.40,467.04 L49.90,467.04 L50.40,467.03 L50.90,467.03 L51.40,467.02 L51.90,467.01 L52.40,467.01 L52.90,467.00 L53.40,466.99 L53.90,466.99 L54.40,466.98 L54.90,466.97 L55.40,466.97 L55.90,466.96 L56.40,466.95 L56.90,466.95 L57.40,466.94 L57.90,466.93 L58.40,466.93 L58.90,466.92 L59.40,466.91 L59.90,466.90 L60.40,466.89 L60.90,466.89 L61.40,466.88 L61.90,466.87 L62.40,466.86 L62.90,466.85 L63.40,466.85 L63.90,466.84 L64.40,466.83 L64.90,466.82 L65.40,466.81 L65.90,466.80 L66.40,466.79 L66.90,466.78 L67.40,466.78 L67.90,466.77 L68.40,466.76 L68.90,466.75 L69.40,466.74 L69.90,466.73 L70.40,466.72 L70.90,466.71 L71.40,466.70 L71.90,466.69 L72.40,466.68 L72.90,466.66 L73.40,466.65 L73.90,466.64 L74.40,466.63 L74.90,466.62 L75.40,466.61 L75.90,466.60 L76.40,466.58 L76.90,466.57 L77.40,466.56 L77.90,466.55 L78.40,466.53 L78.90,466.52 L79.40,466.51 L79.90,466.50 L80.40,466.48 L80.90,466.47 L81.40,466.45 L81.90,466.44 L82.40,466.43 L82.90,466.41 L83.40,466.40 L83.90,466.38 L84.40,466.37 L84.90,466.35 L85.40,466.34 L85.90,466.32 L86.40,466.30 L86.90,466.29 L87.40,466.27 L87.90,466.25 L88.40,466.24 L88.90,466.22 L89.40,466.20 L89.90,466.18 L90.40,466.16 L90.90,466.14 L91.40,466.12 L91.90,466.11 L92.40,466.09 L92.90,466.07 L93.40,466.04 L93.90,466.02 L94.40,466.00 L94.90,465.98 L95.40,465.96 L95.90,465.94 L96.40,465.91 L96.90,465.89 L97.40,465.87 L97.90,465.84 L98.40,465.82 L98.90,465.79 L99.40,465.77 L99.90,465.74 L100.40,465.72 L100.90,465.69 L101.40,465.66 L101.90,465.63 L102.40,465.60 L102.90,465.58 L103.40,465.55 L103.90,465.52 L104.40,465.49 L104.90,465.45 L105.40,465.42 L105.90,465.39 L106.40,465.36 L106.90,465.32 L107.40,465.29 L107.90,465.25 L108.40,465.22 L108.90,465.18 L109.40,465.14 L109.90,465.10 L110.40,465.06 L110.90,465.02 L111.40,464.98 L111.90,464.94 L112.40,464.90 L112.90,464.85 L113.40,464.81 L113.90,464.76 L114.40,464.72 L114.90,464.67 L115.40,464.62 L115.90,464.57 L116.40,464.52 L116.90,464.47 L117.40,464.42 L117.90,464.36 L118.40,464.30 L118.90,464.25 L119.40,464.19 L119.90,464.13 L120.40,464.07 L120.90,464.01 L121.40,463.94 L121.90,463.88 L122.40,463.81 L122.90,463.74 L123.40,463.67 L123.90,463.60 L124.40,463.52 L124.90,463.44 L125.40,463.37 L125.90,463.29 L126.40,463.20 L126.90,463.12 L127.40,463.03 L127.90,462.94 L128.40,462.85 L128.90,462.76 L129.40,462.66 L129.90,462.56 L130.40,462.46 L130.90,462.36 L131.40,462.25 L131.90,462.14 L132.40,462.03 L132.90,461.91 L133.40,461.79 L133.90,461.67 L134.40,461.54 L134.90,461.41 L135.40,461.28 L135.90,461.14 L136.40,461.00 L136.90,460.85 L137.40,460.70 L137.90,460.55 L138.40,460.39 L138.90,460.22 L139.40,460.05 L139.90,459.88 L140.40,459.70 L140.90,459.51 L141.40,459.32 L141.90,459.13 L142.40,458.93 L142.90,458.72 L143.40,458.50 L143.90,458.28 L144.40,458.05 L144.90,457.82 L145.40,457.58 L145.90,457.33 L146.40,457.07 L146.90,456.81 L147.40,456.53 L147.90,456.25 L148.40,455.96 L148.90,455.66 L149.40,455.35 L149.90,455.04 L150.40,454.71 L150.90,454.37 L151.40,454.03 L151.90,453.67 L152.40,453.31 L152.90,452.93 L153.40,452.55 L153.90,452.15 L154.40,451.74 L154.90,451.33 L155.40,450.90 L155.90,450.46 L156.40,450.02 L156.90,449.56 L157.40,449.09 L157.90,448.62 L158.40,448.14 L158.90,447.64 L159.40,447.15 L159.90,446.64 L160.40,446.13 L160.90,445.62 L161.40,445.10 L161.90,444.58 L162.40,444.06 L162.90,443.54 L163.40,443.02 L163.90,442.50 L164.40,442.00 L164.90,441.50 L165.40,441.01 L165.90,440.53 L166.40,440.07 L166.90,439.63 L167.40,439.21 L167.90,438.81 L168.40,438.43 L168.90,438.08 L169.40,437.76 L169.90,437.48 L170.40,437.22 L170.90,437.01 L171.40,436.83 L171.90,436.68 L172.40,436.58 L172.90,436.52 L173.40,436.50 L173.90,436.52 L174.40,436.58 L174.90,436.68 L175.40,436.83 L175.90,437.01 L176.40,437.22 L176.90,437.48 L177.40,437.76 L177.90,438.08 L178.40,438.43 L178.90,438.81 L179.40,439.21 L179.90,439.63 L180.40,440.07 L180.90,440.53 L181.40,441.01 L181.90,441.50 L182.40,442.00 L182.90,442.50 L183.40,443.02 L183.90,443.54 L184.40,444.06 L184.90,444.58 L185.40,445.10 L185.90,445.62 L186.40,446.13 L186.90,446.64 L187.40,447.15 L187.90,447.64 L188.40,448.14 L188.90,448.62 L189.40,449.09 L189.90,449.56 L190.40,450.02 L190.90,450.46 L191.40,450.90 L191.90,451.33 L192.40,451.74 L192.90,452.15 L193.40,452.55 L193.90,452.93 L194.40,453.31 L194.90,453.67 L195.40,454.03 L195.90,454.37 L196.40,454.71 L196.90,455.04 L197.40,455.35 L197.90,455.66 L198.40,455.96 L198.90,456.25 L199.40,456.53 L199.90,456.81 L200.40,457.07 L200.90,457.33 L201.40,457.58 L201.90,457.82 L202.40,458.05 L202.90,458.28 L203.40,458.50 L203.90,458.72 L204.40,458.93 L204.90,459.13 L205.40,459.32 L205.90,459.51 L206.40,459.70 L206.90,459.88 L207.40,460.05 L207.90,460.22 L208.40,460.39 L208.90,460.55 L209.40,460.70 L209.90,460.85 L210.40,461.00 L210.90,461.14 L211.40,461.28 L211.90,461.41 L212.40,461.54 L212.90,461.67 L213.40,461.79 L213.90,461.91 L214.40,462.03 L214.90,462.14 L215.40,462.25 L215.90,462.36 L216.40,462.46 L216.90,462.56 L217.40,462.66 L217.90,462.76 L218.40,462.85 L218.90,462.94 L219.40,463.03 L219.90,463.12 L220.40,463.20 L220.90,463.29 L221.40,463.37 L221.90,463.44 L222.40,463.52 L222.90,463.60 L223.40,463.67 L223.90,463.74 L224.40,463.81 L224.90,463.88 L225.40,463.94 L225.90,464.01 L226.40,464.07 L226.90,464.13 L227.40,464.19 L227.90,464.25 L228.40,464.30 L228.90,464.36 L229.40,464.42 L229.90,464.47 L230.40,464.52 L230.90,464.57 L231.40,464.62 L231.90,464.67 L232.40,464.72 L232.90,464.76 L233.40,464.81 L233.90,464.85 L234.40,464.90 L234.90,464.94 L235.40,464.98" fill="none" stroke="#8b2020" stroke-width="1.4"/>
<path d="M21.50,463.34 L22.56,463.39 L23.26,463.34 L24.05,463.14 L24.90,462.90 L25.80,462.83 L26.73,462.95 L27.67,462.74 L28.60,461.87 L29.50,460.98 L30.40,460.67 L31.32,460.71 L32.27,460.75 L33.23,460.89 L34.21,461.00 L35.19,460.84 L36.18,460.77 L37.16,461.17 L38.14,461.61 L39.10,461.40 L40.05,460.64 L41.00,460.12 L41.95,460.08 L42.90,460.00 L43.85,459.62 L44.80,459.35 L45.75,459.52 L46.70,459.94 L47.65,460.24 L48.60,460.41 L49.57,460.42 L50.56,460.14 L51.56,459.93 L52.57,460.22 L53.57,460.67 L54.56,460.84 L55.52,460.77 L56.46,460.75 L57.35,460.92 L58.20,460.94 L58.99,460.67 L59.71,460.30 L61.04,459.45 L62.28,458.45 L63.57,458.43 L64.26,458.74 L65.00,458.77 L65.79,458.24 L66.60,457.54 L67.45,457.23 L68.31,457.43 L69.19,457.57 L70.07,457.18 L70.96,456.54 L71.85,456.04 L72.73,455.62 L73.60,455.38 L74.46,455.59 L75.32,456.01 L76.18,455.94 L77.04,455.20 L77.90,454.36 L78.76,453.85 L79.62,453.49 L80.48,453.29 L81.34,453.39 L82.20,453.47 L83.08,453.12 L83.99,452.45 L84.92,451.59 L85.85,450.42 L86.78,449.39 L87.68,448.99 L88.54,448.89 L89.36,448.42 L90.12,447.56 L90.80,446.69 L91.40,446.03 L91.92,445.57 L92.79,444.82 L93.52,444.00 L94.22,442.91 L95.00,441.66 L95.88,440.69 L96.79,440.36 L97.70,440.06 L98.58,439.17 L99.40,437.92 L100.16,436.69 L100.87,435.60 L101.21,435.07 L101.54,434.54 L101.86,433.99 L102.49,432.85 L103.10,431.71 L103.68,430.54 L104.23,429.34 L104.76,428.11 L105.26,426.83 L105.74,425.58 L106.18,424.44 L106.60,423.42 L107.00,422.50 L107.40,421.61 L107.79,420.71 L108.16,419.82 L108.51,418.90 L108.88,417.91 L109.28,416.81 L109.74,415.58 L110.28,414.20 L110.56,413.47 L110.85,412.75 L111.14,412.03 L111.42,411.33 L111.70,410.64 L111.96,409.98 L112.42,408.72 L112.84,407.49 L113.23,406.29 L113.59,405.11 L113.93,403.94 L114.26,402.85 L114.54,402.02 L114.79,401.26 L115.05,400.35 L115.34,399.06 L115.50,398.20 L115.68,397.19 L115.86,396.04 L116.06,394.77 L116.26,393.42 L116.46,392.00 L116.67,390.53 L116.88,389.04 L117.09,387.55 L117.30,386.07 L117.50,384.64 L117.70,383.20 L117.90,381.71 L118.11,380.19 L118.31,378.66 L118.51,377.14 L118.71,375.64 L118.91,374.17 L119.11,372.76 L119.31,371.42 L119.50,370.16 L119.69,368.99 L119.87,367.89 L120.06,366.83 L120.24,365.80 L120.42,364.80 L120.60,363.82 L120.77,362.85 L120.95,361.89 L121.12,360.93 L121.30,359.96 L121.47,359.01 L121.65,358.08 L121.82,357.20 L121.99,356.35 L122.16,355.55 L122.32,354.79 L122.49,354.08 L122.66,353.42 L122.83,352.78 L123.00,352.18 L123.17,351.60 L123.34,351.04 L123.68,349.96 L124.02,348.89 L124.36,347.83 L124.70,346.79 L125.03,345.79 L125.36,344.86 L125.69,344.02 L126.03,343.30 L126.59,342.56 L127.19,342.33 L128.05,342.68 L128.73,343.22 L129.45,343.91 L130.20,344.24 L131.00,343.59 L131.84,342.04 L132.43,340.88 L133.04,339.81 L133.67,338.87 L134.34,337.94 L135.07,336.90 L135.83,335.86 L136.57,334.91 L137.28,334.10 L137.90,333.53 L138.46,333.09 L138.98,332.73 L139.72,332.30 L140.44,331.92 L141.14,331.75 L141.82,332.21 L142.27,333.08 L142.73,334.43 L143.20,336.21 L143.43,337.17 L143.67,338.14 L143.90,339.08 L144.13,339.94 L144.36,340.72 L144.58,341.40 L144.80,342.00 L145.01,342.55 L145.20,343.07 L145.39,343.59 L145.58,344.12 L145.76,344.67 L145.95,345.27 L146.14,345.92 L146.35,346.66 L146.56,347.50 L146.80,348.44 L147.06,349.48 L147.33,350.61 L147.63,351.81 L147.93,353.03 L148.24,354.25 L148.55,355.42 L148.85,356.56 L149.15,357.70 L149.43,358.83 L149.70,359.94 L149.95,361.04 L150.18,362.14 L150.41,363.25 L150.63,364.35 L150.84,365.44 L151.05,366.49 L151.25,367.51 L151.46,368.51 L151.68,369.48 L151.90,370.44 L152.13,371.41 L152.35,372.42 L152.58,373.48 L152.81,374.60 L153.04,375.77 L153.28,377.00 L153.51,378.26 L153.74,379.52 L153.97,380.76 L154.20,381.97 L154.43,383.13 L154.67,384.27 L154.90,385.34 L155.14,386.33 L155.38,387.23 L155.61,388.04 L155.84,388.78 L156.07,389.44 L156.29,390.02 L156.70,390.96 L157.09,391.56 L157.63,392.21 L158.20,393.06 L158.61,393.95 L159.01,395.01 L159.43,396.09 L159.89,397.06 L160.41,397.83 L161.02,398.39 L161.71,398.95 L162.47,399.66 L163.28,400.43 L164.09,401.16 L164.91,401.81 L165.72,402.45 L166.56,403.28 L167.43,404.41 L168.33,405.26 L169.29,405.29 L170.33,405.08 L171.42,405.78 L172.50,406.89 L173.52,407.82 L174.43,409.06 L175.13,410.76 L175.76,412.73 L176.47,414.47 L176.90,414.92 L177.40,414.90 L178.00,414.56 L178.70,414.39 L179.48,414.80 L180.33,415.69 L181.24,416.77 L182.19,417.90 L183.16,419.09 L184.14,420.33 L185.12,421.64 L186.08,422.64 L187.00,423.07 L187.91,423.54 L188.83,424.70 L189.76,426.25 L190.69,427.52 L191.61,428.48 L192.53,429.37 L193.43,430.34 L194.32,431.17 L195.17,431.58 L196.00,431.60 L196.80,431.90 L197.59,433.00 L198.37,434.39 L199.12,435.10 L199.86,434.74 L200.58,433.90 L201.27,433.27 L202.59,433.27 L203.79,433.66 L204.87,433.91 L205.86,434.07 L206.77,434.43 L207.60,435.05 L208.36,435.15 L208.93,434.28 L209.66,432.46 L210.23,431.39 L211.00,430.91 L212.04,430.82 L213.26,430.04 L213.92,429.45 L214.58,428.90 L215.25,428.42 L215.89,427.96 L216.52,427.55 L217.65,426.87 L218.70,426.31 L219.71,425.66 L220.69,424.94 L221.69,424.13 L222.72,423.20 L223.25,422.69 L223.78,422.17 L224.32,421.62 L224.86,421.09 L225.39,420.60 L225.91,420.18 L226.42,419.83 L226.92,419.52 L227.40,419.23 L228.31,418.94 L229.18,419.51 L230.01,419.24 L230.81,416.77 L231.60,414.26 L232.42,412.76 L233.26,411.76 L234.05,411.06 L234.72,410.73 L235.20,410.68" fill="none" stroke="#ff0a0a" stroke-width="2.8" stroke-linejoin="round"/>
<path d="M21.50,463.40 C22.83,463.28 26.57,462.93 29.50,462.70 C32.43,462.47 35.92,462.32 39.10,462.00 C42.28,461.68 45.42,461.12 48.60,460.80 C51.78,460.48 55.47,460.42 58.20,460.10 C60.93,459.78 62.43,459.45 65.00,458.90 C67.57,458.35 70.73,457.72 73.60,456.80 C76.47,455.88 79.33,455.02 82.20,453.40 C85.07,451.78 88.67,448.90 90.80,447.10 C92.93,445.30 93.57,444.10 95.00,442.60 C96.43,441.10 98.10,439.85 99.40,438.10 C100.70,436.35 101.78,434.02 102.80,432.10 C103.82,430.18 104.70,428.27 105.50,426.60 C106.30,424.93 106.93,423.68 107.60,422.10 C108.27,420.52 108.73,419.03 109.50,417.10 C110.27,415.17 111.43,412.58 112.20,410.50 C112.97,408.42 113.55,406.43 114.10,404.60 C114.65,402.77 114.93,402.67 115.50,399.50 C116.07,396.33 116.83,390.42 117.50,385.60 C118.17,380.78 118.87,374.68 119.50,370.60 C120.13,366.52 120.72,364.00 121.30,361.10 C121.88,358.20 122.43,355.53 123.00,353.20 C123.57,350.87 124.13,348.73 124.70,347.10 C125.27,345.47 125.77,344.22 126.40,343.40 C127.03,342.58 127.73,342.53 128.50,342.20 C129.27,341.87 130.08,341.92 131.00,341.40 C131.92,340.88 132.90,340.27 134.00,339.10 C135.10,337.93 136.57,335.50 137.60,334.40 C138.63,333.30 139.38,332.45 140.20,332.50 C141.02,332.55 141.73,333.08 142.50,334.70 C143.27,336.32 144.08,339.70 144.80,342.20 C145.52,344.70 145.98,346.75 146.80,349.70 C147.62,352.65 148.85,356.30 149.70,359.90 C150.55,363.50 151.15,367.52 151.90,371.30 C152.65,375.08 153.43,379.30 154.20,382.60 C154.97,385.90 155.80,389.18 156.50,391.10 C157.20,393.02 157.70,392.77 158.40,394.10 C159.10,395.43 159.68,397.65 160.70,399.10 C161.72,400.55 163.15,401.75 164.50,402.80 C165.85,403.85 167.22,404.50 168.80,405.40 C170.38,406.30 172.47,406.78 174.00,408.20 C175.53,409.62 175.83,411.30 178.00,413.90 C180.17,416.50 184.00,420.72 187.00,423.80 C190.00,426.88 193.30,430.63 196.00,432.40 C198.70,434.17 201.20,434.15 203.20,434.40 C205.20,434.65 206.70,434.40 208.00,433.90 C209.30,433.40 209.48,432.37 211.00,431.40 C212.52,430.43 215.23,429.18 217.10,428.10 C218.97,427.02 220.48,426.32 222.20,424.90 C223.92,423.48 225.83,421.28 227.40,419.60 C228.97,417.92 230.30,416.17 231.60,414.80 C232.90,413.43 234.60,411.97 235.20,411.40" fill="none" stroke="#ffff00" stroke-width="1.0"/>
<text x="31.3" y="339.2" font-size="16.3" fill="#000" text-anchor="start" font-weight="bold" stroke="#000" stroke-width="0.35">(b)</text>
<text x="142" y="327.2" font-size="13.5" fill="#ff0a0a" text-anchor="start" font-weight="bold" stroke="#ff0a0a" stroke-width="0.35">BBO/STO(001)</text>
<text x="170.8" y="344.2" font-size="13.5" fill="#8000ff" text-anchor="start" font-weight="bold" stroke="#8000ff" stroke-width="0.35">at 300K</text>
<rect x="299.1" y="315.6" width="214.5" height="172.7" fill="none" stroke="#1a1a1a" stroke-width="1.4"/>
<line x1="352.73" y1="488.3" x2="352.73" y2="484.5" stroke="#1a1a1a" stroke-width="1.3"/>
<line x1="352.73" y1="315.6" x2="352.73" y2="319.4" stroke="#000" stroke-width="1.3"/>
<line x1="406.35" y1="488.3" x2="406.35" y2="484.5" stroke="#1a1a1a" stroke-width="1.3"/>
<line x1="406.35" y1="315.6" x2="406.35" y2="319.4" stroke="#000" stroke-width="1.3"/>
<line x1="459.98" y1="488.3" x2="459.98" y2="484.5" stroke="#1a1a1a" stroke-width="1.3"/>
<line x1="459.98" y1="315.6" x2="459.98" y2="319.4" stroke="#000" stroke-width="1.3"/>
<line x1="325.91" y1="488.3" x2="325.91" y2="486.1" stroke="#1a1a1a" stroke-width="1.3"/>
<line x1="325.91" y1="315.6" x2="325.91" y2="317.8" stroke="#000" stroke-width="1.3"/>
<line x1="379.54" y1="488.3" x2="379.54" y2="486.1" stroke="#1a1a1a" stroke-width="1.3"/>
<line x1="379.54" y1="315.6" x2="379.54" y2="317.8" stroke="#000" stroke-width="1.3"/>
<line x1="433.16" y1="488.3" x2="433.16" y2="486.1" stroke="#1a1a1a" stroke-width="1.3"/>
<line x1="433.16" y1="315.6" x2="433.16" y2="317.8" stroke="#000" stroke-width="1.3"/>
<line x1="486.79" y1="488.3" x2="486.79" y2="486.1" stroke="#1a1a1a" stroke-width="1.3"/>
<line x1="486.79" y1="315.6" x2="486.79" y2="317.8" stroke="#000" stroke-width="1.3"/>
<line x1="299.1" y1="329.90" x2="302.9" y2="329.90" stroke="#000" stroke-width="1.3"/>
<line x1="513.6" y1="329.90" x2="509.8" y2="329.90" stroke="#000" stroke-width="1.3"/>
<line x1="299.1" y1="358.82" x2="302.9" y2="358.82" stroke="#000" stroke-width="1.3"/>
<line x1="513.6" y1="358.82" x2="509.8" y2="358.82" stroke="#000" stroke-width="1.3"/>
<line x1="299.1" y1="387.74" x2="302.9" y2="387.74" stroke="#000" stroke-width="1.3"/>
<line x1="513.6" y1="387.74" x2="509.8" y2="387.74" stroke="#000" stroke-width="1.3"/>
<line x1="299.1" y1="416.66" x2="302.9" y2="416.66" stroke="#000" stroke-width="1.3"/>
<line x1="513.6" y1="416.66" x2="509.8" y2="416.66" stroke="#000" stroke-width="1.3"/>
<line x1="299.1" y1="445.58" x2="302.9" y2="445.58" stroke="#000" stroke-width="1.3"/>
<line x1="513.6" y1="445.58" x2="509.8" y2="445.58" stroke="#000" stroke-width="1.3"/>
<line x1="299.1" y1="474.50" x2="302.9" y2="474.50" stroke="#000" stroke-width="1.3"/>
<line x1="513.6" y1="474.50" x2="509.8" y2="474.50" stroke="#000" stroke-width="1.3"/>
<line x1="299.1" y1="344.36" x2="301.3" y2="344.36" stroke="#000" stroke-width="1.3"/>
<line x1="513.6" y1="344.36" x2="511.4" y2="344.36" stroke="#000" stroke-width="1.3"/>
<line x1="299.1" y1="373.28" x2="301.3" y2="373.28" stroke="#000" stroke-width="1.3"/>
<line x1="513.6" y1="373.28" x2="511.4" y2="373.28" stroke="#000" stroke-width="1.3"/>
<line x1="299.1" y1="402.20" x2="301.3" y2="402.20" stroke="#000" stroke-width="1.3"/>
<line x1="513.6" y1="402.20" x2="511.4" y2="402.20" stroke="#000" stroke-width="1.3"/>
<line x1="299.1" y1="431.12" x2="301.3" y2="431.12" stroke="#000" stroke-width="1.3"/>
<line x1="513.6" y1="431.12" x2="511.4" y2="431.12" stroke="#000" stroke-width="1.3"/>
<line x1="299.1" y1="460.04" x2="301.3" y2="460.04" stroke="#000" stroke-width="1.3"/>
<line x1="513.6" y1="460.04" x2="511.4" y2="460.04" stroke="#000" stroke-width="1.3"/>
<text x="299.1" y="501.7" font-size="12" fill="#000" text-anchor="middle" font-weight="bold" stroke="#000" stroke-width="0.35">200</text>
<text x="352.725" y="501.7" font-size="12" fill="#000" text-anchor="middle" font-weight="bold" stroke="#000" stroke-width="0.35">250</text>
<text x="406.35" y="501.7" font-size="12" fill="#000" text-anchor="middle" font-weight="bold" stroke="#000" stroke-width="0.35">300</text>
<text x="459.975" y="501.7" font-size="12" fill="#000" text-anchor="middle" font-weight="bold" stroke="#000" stroke-width="0.35">350</text>
<text x="513.6" y="501.7" font-size="12" fill="#000" text-anchor="middle" font-weight="bold" stroke="#000" stroke-width="0.35">400</text>
<path d="M299.10,468.17 L299.60,468.16 L300.10,468.15 L300.60,468.15 L301.10,468.14 L301.60,468.13 L302.10,468.13 L302.60,468.12 L303.10,468.12 L303.60,468.11 L304.10,468.10 L304.60,468.09 L305.10,468.09 L305.60,468.08 L306.10,468.07 L306.60,468.07 L307.10,468.06 L307.60,468.05 L308.10,468.04 L308.60,468.04 L309.10,468.03 L309.60,468.02 L310.10,468.01 L310.60,468.00 L311.10,467.99 L311.60,467.99 L312.10,467.98 L312.60,467.97 L313.10,467.96 L313.60,467.95 L314.10,467.94 L314.60,467.93 L315.10,467.92 L315.60,467.91 L316.10,467.90 L316.60,467.89 L317.10,467.88 L317.60,467.87 L318.10,467.86 L318.60,467.85 L319.10,467.84 L319.60,467.83 L320.10,467.82 L320.60,467.81 L321.10,467.79 L321.60,467.78 L322.10,467.77 L322.60,467.76 L323.10,467.75 L323.60,467.73 L324.10,467.72 L324.60,467.71 L325.10,467.69 L325.60,467.68 L326.10,467.66 L326.60,467.65 L327.10,467.64 L327.60,467.62 L328.10,467.61 L328.60,467.59 L329.10,467.57 L329.60,467.56 L330.10,467.54 L330.60,467.53 L331.10,467.51 L331.60,467.49 L332.10,467.47 L332.60,467.45 L333.10,467.44 L333.60,467.42 L334.10,467.40 L334.60,467.38 L335.10,467.36 L335.60,467.34 L336.10,467.32 L336.60,467.30 L337.10,467.27 L337.60,467.25 L338.10,467.23 L338.60,467.21 L339.10,467.18 L339.60,467.16 L340.10,467.13 L340.60,467.11 L341.10,467.08 L341.60,467.05 L342.10,467.03 L342.60,467.00 L343.10,466.97 L343.60,466.94 L344.10,466.91 L344.60,466.88 L345.10,466.85 L345.60,466.82 L346.10,466.78 L346.60,466.75 L347.10,466.72 L347.60,466.68 L348.10,466.64 L348.60,466.61 L349.10,466.57 L349.60,466.53 L350.10,466.49 L350.60,466.45 L351.10,466.40 L351.60,466.36 L352.10,466.32 L352.60,466.27 L353.10,466.22 L353.60,466.17 L354.10,466.12 L354.60,466.07 L355.10,466.02 L355.60,465.96 L356.10,465.91 L356.60,465.85 L357.10,465.79 L357.60,465.73 L358.10,465.66 L358.60,465.60 L359.10,465.53 L359.60,465.46 L360.10,465.39 L360.60,465.32 L361.10,465.24 L361.60,465.16 L362.10,465.08 L362.60,464.99 L363.10,464.91 L363.60,464.82 L364.10,464.72 L364.60,464.63 L365.10,464.53 L365.60,464.42 L366.10,464.31 L366.60,464.20 L367.10,464.09 L367.60,463.97 L368.10,463.84 L368.60,463.71 L369.10,463.58 L369.60,463.44 L370.10,463.30 L370.60,463.14 L371.10,462.99 L371.60,462.82 L372.10,462.65 L372.60,462.48 L373.10,462.29 L373.60,462.10 L374.10,461.90 L374.60,461.68 L375.10,461.46 L375.60,461.23 L376.10,460.99 L376.60,460.74 L377.10,460.48 L377.60,460.20 L378.10,459.91 L378.60,459.60 L379.10,459.28 L379.60,458.94 L380.10,458.59 L380.60,458.21 L381.10,457.82 L381.60,457.41 L382.10,456.97 L382.60,456.51 L383.10,456.02 L383.60,455.50 L384.10,454.95 L384.60,454.37 L385.10,453.76 L385.60,453.11 L386.10,452.42 L386.60,451.68 L387.10,450.90 L387.60,450.07 L388.10,449.18 L388.60,448.23 L389.10,447.22 L389.60,446.14 L390.10,444.99 L390.60,443.76 L391.10,442.44 L391.60,441.04 L392.10,439.53 L392.60,437.91 L393.10,436.18 L393.60,434.32 L394.10,432.34 L394.60,430.22 L395.10,427.95 L395.60,425.52 L396.10,422.94 L396.60,420.20 L397.10,417.29 L397.60,414.22 L398.10,411.00 L398.60,407.63 L399.10,404.13 L399.60,400.54 L400.10,396.89 L400.60,393.22 L401.10,389.60 L401.60,386.09 L402.10,382.78 L402.60,379.74 L403.10,377.07 L403.60,374.85 L404.10,373.16 L404.60,372.07 L405.10,371.61 L405.60,371.81 L406.10,372.65 L406.60,374.11 L407.10,376.12 L407.60,378.62 L408.10,381.52 L408.60,384.74 L409.10,388.18 L409.60,391.76 L410.10,395.42 L410.60,399.09 L411.10,402.71 L411.60,406.24 L412.10,409.67 L412.60,412.95 L413.10,416.08 L413.60,419.06 L414.10,421.87 L414.60,424.51 L415.10,427.00 L415.60,429.33 L416.10,431.51 L416.60,433.55 L417.10,435.45 L417.60,437.23 L418.10,438.89 L418.60,440.44 L419.10,441.89 L419.60,443.25 L420.10,444.51 L420.60,445.69 L421.10,446.80 L421.60,447.84 L422.10,448.81 L422.60,449.72 L423.10,450.57 L423.60,451.37 L424.10,452.13 L424.60,452.84 L425.10,453.50 L425.60,454.13 L426.10,454.73 L426.60,455.28 L427.10,455.81 L427.60,456.31 L428.10,456.79 L428.60,457.23 L429.10,457.66 L429.60,458.06 L430.10,458.44 L430.60,458.80 L431.10,459.15 L431.60,459.47 L432.10,459.79 L432.60,460.08 L433.10,460.37 L433.60,460.64 L434.10,460.89 L434.60,461.14 L435.10,461.37 L435.60,461.60 L436.10,461.81 L436.60,462.02 L437.10,462.21 L437.60,462.40 L438.10,462.58 L438.60,462.76 L439.10,462.92 L439.60,463.08 L440.10,463.24 L440.60,463.38 L441.10,463.52 L441.60,463.66 L442.10,463.79 L442.60,463.92 L443.10,464.04 L443.60,464.16 L444.10,464.27 L444.60,464.38 L445.10,464.48 L445.60,464.59 L446.10,464.68 L446.60,464.78 L447.10,464.87 L447.60,464.96 L448.10,465.04 L448.60,465.13 L449.10,465.21 L449.60,465.29 L450.10,465.36 L450.60,465.43 L451.10,465.50 L451.60,465.57 L452.10,465.64 L452.60,465.70 L453.10,465.76 L453.60,465.83 L454.10,465.88 L454.60,465.94 L455.10,466.00 L455.60,466.05 L456.10,466.10 L456.60,466.15 L457.10,466.20 L457.60,466.25 L458.10,466.30 L458.60,466.34 L459.10,466.39 L459.60,466.43 L460.10,466.47 L460.60,466.51 L461.10,466.55 L461.60,466.59 L462.10,466.63 L462.60,466.67 L463.10,466.70 L463.60,466.74 L464.10,466.77 L464.60,466.80 L465.10,466.84 L465.60,466.87 L466.10,466.90 L466.60,466.93 L467.10,466.96 L467.60,466.99 L468.10,467.02 L468.60,467.04 L469.10,467.07 L469.60,467.10 L470.10,467.12 L470.60,467.15 L471.10,467.17 L471.60,467.20 L472.10,467.22 L472.60,467.24 L473.10,467.27 L473.60,467.29 L474.10,467.31 L474.60,467.33 L475.10,467.35 L475.60,467.37 L476.10,467.39 L476.60,467.41 L477.10,467.43 L477.60,467.45 L478.10,467.47 L478.60,467.48 L479.10,467.50 L479.60,467.52 L480.10,467.54 L480.60,467.55 L481.10,467.57 L481.60,467.58 L482.10,467.60 L482.60,467.61 L483.10,467.63 L483.60,467.64 L484.10,467.66 L484.60,467.67 L485.10,467.69 L485.60,467.70 L486.10,467.71 L486.60,467.73 L487.10,467.74 L487.60,467.75 L488.10,467.77 L488.60,467.78 L489.10,467.79 L489.60,467.80 L490.10,467.81 L490.60,467.82 L491.10,467.84 L491.60,467.85 L492.10,467.86 L492.60,467.87 L493.10,467.88 L493.60,467.89 L494.10,467.90 L494.60,467.91 L495.10,467.92 L495.60,467.93 L496.10,467.94 L496.60,467.95 L497.10,467.96 L497.60,467.97 L498.10,467.97 L498.60,467.98 L499.10,467.99 L499.60,468.00 L500.10,468.01 L500.60,468.02 L501.10,468.02 L501.60,468.03 L502.10,468.04 L502.60,468.05 L503.10,468.06 L503.60,468.06 L504.10,468.07 L504.60,468.08 L505.10,468.08 L505.60,468.09 L506.10,468.10 L506.60,468.11 L507.10,468.11 L507.60,468.12 L508.10,468.13 L508.60,468.13 L509.10,468.14 L509.60,468.14 L510.10,468.15 L510.60,468.16 L511.10,468.16 L511.60,468.17 L512.10,468.17 L512.60,468.18 L513.10,468.19 L513.60,468.19" fill="none" stroke="#2af52a" stroke-width="1.35"/>
<path d="M299.10,467.71 L299.60,467.70 L300.10,467.69 L300.60,467.68 L301.10,467.67 L301.60,467.66 L302.10,467.65 L302.60,467.64 L303.10,467.63 L303.60,467.62 L304.10,467.61 L304.60,467.60 L305.10,467.59 L305.60,467.58 L306.10,467.57 L306.60,467.56 L307.10,467.55 L307.60,467.54 L308.10,467.53 L308.60,467.52 L309.10,467.51 L309.60,467.50 L310.10,467.49 L310.60,467.47 L311.10,467.46 L311.60,467.45 L312.10,467.44 L312.60,467.43 L313.10,467.41 L313.60,467.40 L314.10,467.39 L314.60,467.37 L315.10,467.36 L315.60,467.35 L316.10,467.33 L316.60,467.32 L317.10,467.31 L317.60,467.29 L318.10,467.28 L318.60,467.26 L319.10,467.25 L319.60,467.23 L320.10,467.22 L320.60,467.20 L321.10,467.19 L321.60,467.17 L322.10,467.15 L322.60,467.14 L323.10,467.12 L323.60,467.11 L324.10,467.09 L324.60,467.07 L325.10,467.05 L325.60,467.04 L326.10,467.02 L326.60,467.00 L327.10,466.98 L327.60,466.96 L328.10,466.94 L328.60,466.92 L329.10,466.90 L329.60,466.88 L330.10,466.86 L330.60,466.84 L331.10,466.82 L331.60,466.80 L332.10,466.78 L332.60,466.75 L333.10,466.73 L333.60,466.71 L334.10,466.68 L334.60,466.66 L335.10,466.64 L335.60,466.61 L336.10,466.59 L336.60,466.56 L337.10,466.53 L337.60,466.51 L338.10,466.48 L338.60,466.45 L339.10,466.43 L339.60,466.40 L340.10,466.37 L340.60,466.34 L341.10,466.31 L341.60,466.28 L342.10,466.25 L342.60,466.22 L343.10,466.18 L343.60,466.15 L344.10,466.12 L344.60,466.08 L345.10,466.05 L345.60,466.02 L346.10,465.98 L346.60,465.94 L347.10,465.91 L347.60,465.87 L348.10,465.83 L348.60,465.79 L349.10,465.75 L349.60,465.71 L350.10,465.67 L350.60,465.62 L351.10,465.58 L351.60,465.53 L352.10,465.49 L352.60,465.44 L353.10,465.40 L353.60,465.35 L354.10,465.30 L354.60,465.25 L355.10,465.20 L355.60,465.14 L356.10,465.09 L356.60,465.03 L357.10,464.98 L357.60,464.92 L358.10,464.86 L358.60,464.80 L359.10,464.74 L359.60,464.68 L360.10,464.61 L360.60,464.55 L361.10,464.48 L361.60,464.41 L362.10,464.34 L362.60,464.27 L363.10,464.20 L363.60,464.12 L364.10,464.04 L364.60,463.96 L365.10,463.88 L365.60,463.80 L366.10,463.71 L366.60,463.63 L367.10,463.54 L367.60,463.44 L368.10,463.35 L368.60,463.25 L369.10,463.15 L369.60,463.05 L370.10,462.95 L370.60,462.84 L371.10,462.73 L371.60,462.61 L372.10,462.50 L372.60,462.38 L373.10,462.25 L373.60,462.13 L374.10,462.00 L374.60,461.86 L375.10,461.72 L375.60,461.58 L376.10,461.43 L376.60,461.28 L377.10,461.13 L377.60,460.97 L378.10,460.80 L378.60,460.63 L379.10,460.46 L379.60,460.28 L380.10,460.09 L380.60,459.90 L381.10,459.70 L381.60,459.49 L382.10,459.28 L382.60,459.06 L383.10,458.84 L383.60,458.60 L384.10,458.36 L384.60,458.11 L385.10,457.85 L385.60,457.59 L386.10,457.31 L386.60,457.02 L387.10,456.73 L387.60,456.42 L388.10,456.10 L388.60,455.77 L389.10,455.42 L389.60,455.07 L390.10,454.70 L390.60,454.32 L391.10,453.92 L391.60,453.50 L392.10,453.07 L392.60,452.63 L393.10,452.16 L393.60,451.68 L394.10,451.18 L394.60,450.65 L395.10,450.11 L395.60,449.54 L396.10,448.95 L396.60,448.34 L397.10,447.70 L397.60,447.03 L398.10,446.33 L398.60,445.61 L399.10,444.85 L399.60,444.06 L400.10,443.23 L400.60,442.37 L401.10,441.48 L401.60,440.54 L402.10,439.56 L402.60,438.55 L403.10,437.48 L403.60,436.37 L404.10,435.22 L404.60,434.01 L405.10,432.76 L405.60,431.45 L406.10,430.09 L406.60,428.68 L407.10,427.21 L407.60,425.69 L408.10,424.11 L408.60,422.48 L409.10,420.79 L409.60,419.05 L410.10,417.26 L410.60,415.42 L411.10,413.54 L411.60,411.62 L412.10,409.67 L412.60,407.69 L413.10,405.70 L413.60,403.70 L414.10,401.71 L414.60,399.73 L415.10,397.79 L415.60,395.89 L416.10,394.07 L416.60,392.32 L417.10,390.68 L417.60,389.15 L418.10,387.77 L418.60,386.54 L419.10,385.48 L419.60,384.61 L420.10,383.94 L420.60,383.48 L421.10,383.24 L421.60,383.22 L422.10,383.42 L422.60,383.83 L423.10,384.46 L423.60,385.29 L424.10,386.31 L424.60,387.51 L425.10,388.86 L425.60,390.36 L426.10,391.98 L426.60,393.71 L427.10,395.52 L427.60,397.40 L428.10,399.34 L428.60,401.31 L429.10,403.30 L429.60,405.30 L430.10,407.29 L430.60,409.28 L431.10,411.23 L431.60,413.16 L432.10,415.05 L432.60,416.90 L433.10,418.70 L433.60,420.45 L434.10,422.15 L434.60,423.79 L435.10,425.38 L435.60,426.91 L436.10,428.39 L436.60,429.82 L437.10,431.19 L437.60,432.50 L438.10,433.77 L438.60,434.98 L439.10,436.15 L439.60,437.26 L440.10,438.34 L440.60,439.36 L441.10,440.35 L441.60,441.29 L442.10,442.20 L442.60,443.06 L443.10,443.90 L443.60,444.69 L444.10,445.46 L444.60,446.19 L445.10,446.89 L445.60,447.57 L446.10,448.21 L446.60,448.83 L447.10,449.43 L447.60,450.00 L448.10,450.55 L448.60,451.07 L449.10,451.58 L449.60,452.07 L450.10,452.54 L450.60,452.99 L451.10,453.42 L451.60,453.84 L452.10,454.24 L452.60,454.62 L453.10,455.00 L453.60,455.35 L454.10,455.70 L454.60,456.03 L455.10,456.35 L455.60,456.66 L456.10,456.96 L456.60,457.25 L457.10,457.53 L457.60,457.80 L458.10,458.06 L458.60,458.31 L459.10,458.56 L459.60,458.79 L460.10,459.02 L460.60,459.24 L461.10,459.45 L461.60,459.66 L462.10,459.86 L462.60,460.05 L463.10,460.24 L463.60,460.42 L464.10,460.60 L464.60,460.77 L465.10,460.94 L465.60,461.10 L466.10,461.25 L466.60,461.40 L467.10,461.55 L467.60,461.69 L468.10,461.83 L468.60,461.97 L469.10,462.10 L469.60,462.23 L470.10,462.35 L470.60,462.47 L471.10,462.59 L471.60,462.70 L472.10,462.82 L472.60,462.92 L473.10,463.03 L473.60,463.13 L474.10,463.23 L474.60,463.33 L475.10,463.42 L475.60,463.52 L476.10,463.61 L476.60,463.70 L477.10,463.78 L477.60,463.87 L478.10,463.95 L478.60,464.03 L479.10,464.10 L479.60,464.18 L480.10,464.26 L480.60,464.33 L481.10,464.40 L481.60,464.47 L482.10,464.53 L482.60,464.60 L483.10,464.67 L483.60,464.73 L484.10,464.79 L484.60,464.85 L485.10,464.91 L485.60,464.97 L486.10,465.02 L486.60,465.08 L487.10,465.13 L487.60,465.19 L488.10,465.24 L488.60,465.29 L489.10,465.34 L489.60,465.39 L490.10,465.43 L490.60,465.48 L491.10,465.53 L491.60,465.57 L492.10,465.61 L492.60,465.66 L493.10,465.70 L493.60,465.74 L494.10,465.78 L494.60,465.82 L495.10,465.86 L495.60,465.90 L496.10,465.94 L496.60,465.97 L497.10,466.01 L497.60,466.04 L498.10,466.08 L498.60,466.11 L499.10,466.15 L499.60,466.18 L500.10,466.21 L500.60,466.24 L501.10,466.27 L501.60,466.30 L502.10,466.33 L502.60,466.36 L503.10,466.39 L503.60,466.42 L504.10,466.45 L504.60,466.48 L505.10,466.50 L505.60,466.53 L506.10,466.56 L506.60,466.58 L507.10,466.61 L507.60,466.63 L508.10,466.65 L508.60,466.68 L509.10,466.70 L509.60,466.73 L510.10,466.75 L510.60,466.77 L511.10,466.79 L511.60,466.81 L512.10,466.84 L512.60,466.86 L513.10,466.88 L513.60,466.90" fill="none" stroke="#2af52a" stroke-width="1.4"/>
<circle cx="299.51" cy="467.70" r="2.15" fill="#2af52a"/>
<circle cx="301.90" cy="467.66" r="2.15" fill="#2af52a"/>
<circle cx="304.29" cy="467.61" r="2.15" fill="#2af52a"/>
<circle cx="306.68" cy="467.56" r="2.15" fill="#2af52a"/>
<circle cx="309.07" cy="467.51" r="2.15" fill="#2af52a"/>
<circle cx="311.46" cy="467.45" r="2.15" fill="#2af52a"/>
<circle cx="313.85" cy="467.39" r="2.15" fill="#2af52a"/>
<circle cx="316.24" cy="467.33" r="2.15" fill="#2af52a"/>
<circle cx="318.63" cy="467.26" r="2.15" fill="#2af52a"/>
<circle cx="321.02" cy="467.19" r="2.15" fill="#2af52a"/>
<circle cx="323.41" cy="467.11" r="2.15" fill="#2af52a"/>
<circle cx="325.80" cy="467.03" r="2.15" fill="#2af52a"/>
<circle cx="328.19" cy="466.94" r="2.15" fill="#2af52a"/>
<circle cx="330.58" cy="466.84" r="2.15" fill="#2af52a"/>
<circle cx="332.97" cy="466.74" r="2.15" fill="#2af52a"/>
<circle cx="335.36" cy="466.62" r="2.15" fill="#2af52a"/>
<circle cx="337.75" cy="466.50" r="2.15" fill="#2af52a"/>
<circle cx="340.14" cy="466.37" r="2.15" fill="#2af52a"/>
<circle cx="342.53" cy="466.22" r="2.15" fill="#2af52a"/>
<circle cx="344.92" cy="466.06" r="2.15" fill="#2af52a"/>
<circle cx="347.31" cy="465.89" r="2.15" fill="#2af52a"/>
<circle cx="349.70" cy="465.70" r="2.15" fill="#2af52a"/>
<circle cx="352.09" cy="465.49" r="2.15" fill="#2af52a"/>
<circle cx="354.48" cy="465.26" r="2.15" fill="#2af52a"/>
<circle cx="356.87" cy="465.00" r="2.15" fill="#2af52a"/>
<circle cx="359.26" cy="464.72" r="2.15" fill="#2af52a"/>
<circle cx="361.65" cy="464.41" r="2.15" fill="#2af52a"/>
<circle cx="364.04" cy="464.05" r="2.15" fill="#2af52a"/>
<circle cx="366.43" cy="463.66" r="2.15" fill="#2af52a"/>
<circle cx="368.82" cy="463.21" r="2.15" fill="#2af52a"/>
<circle cx="371.21" cy="462.70" r="2.15" fill="#2af52a"/>
<circle cx="373.60" cy="462.13" r="2.15" fill="#2af52a"/>
<circle cx="375.99" cy="461.47" r="2.15" fill="#2af52a"/>
<circle cx="378.38" cy="460.71" r="2.15" fill="#2af52a"/>
<circle cx="380.77" cy="459.83" r="2.15" fill="#2af52a"/>
<circle cx="383.16" cy="458.81" r="2.15" fill="#2af52a"/>
<circle cx="385.55" cy="457.61" r="2.15" fill="#2af52a"/>
<circle cx="387.94" cy="456.20" r="2.15" fill="#2af52a"/>
<circle cx="390.33" cy="454.52" r="2.15" fill="#2af52a"/>
<circle cx="392.72" cy="452.52" r="2.15" fill="#2af52a"/>
<circle cx="395.11" cy="450.10" r="2.15" fill="#2af52a"/>
<circle cx="397.50" cy="447.16" r="2.15" fill="#2af52a"/>
<circle cx="399.89" cy="443.58" r="2.15" fill="#2af52a"/>
<circle cx="402.28" cy="439.20" r="2.15" fill="#2af52a"/>
<circle cx="404.67" cy="433.84" r="2.15" fill="#2af52a"/>
<circle cx="407.06" cy="427.33" r="2.15" fill="#2af52a"/>
<circle cx="409.45" cy="419.58" r="2.15" fill="#2af52a"/>
<circle cx="411.84" cy="410.69" r="2.15" fill="#2af52a"/>
<circle cx="414.23" cy="401.19" r="2.15" fill="#2af52a"/>
<circle cx="416.62" cy="392.25" r="2.15" fill="#2af52a"/>
<circle cx="419.01" cy="385.66" r="2.15" fill="#2af52a"/>
<circle cx="421.40" cy="383.20" r="2.15" fill="#2af52a"/>
<circle cx="423.79" cy="385.66" r="2.15" fill="#2af52a"/>
<circle cx="426.18" cy="392.25" r="2.15" fill="#2af52a"/>
<circle cx="428.57" cy="401.19" r="2.15" fill="#2af52a"/>
<circle cx="430.96" cy="410.69" r="2.15" fill="#2af52a"/>
<circle cx="433.35" cy="419.58" r="2.15" fill="#2af52a"/>
<circle cx="435.74" cy="427.33" r="2.15" fill="#2af52a"/>
<circle cx="438.13" cy="433.84" r="2.15" fill="#2af52a"/>
<circle cx="440.52" cy="439.20" r="2.15" fill="#2af52a"/>
<circle cx="442.91" cy="443.58" r="2.15" fill="#2af52a"/>
<circle cx="445.30" cy="447.16" r="2.15" fill="#2af52a"/>
<circle cx="447.69" cy="450.10" r="2.15" fill="#2af52a"/>
<circle cx="450.08" cy="452.52" r="2.15" fill="#2af52a"/>
<circle cx="452.47" cy="454.52" r="2.15" fill="#2af52a"/>
<circle cx="454.86" cy="456.20" r="2.15" fill="#2af52a"/>
<circle cx="457.25" cy="457.61" r="2.15" fill="#2af52a"/>
<circle cx="459.64" cy="458.81" r="2.15" fill="#2af52a"/>
<circle cx="462.03" cy="459.83" r="2.15" fill="#2af52a"/>
<circle cx="464.42" cy="460.71" r="2.15" fill="#2af52a"/>
<circle cx="466.81" cy="461.47" r="2.15" fill="#2af52a"/>
<circle cx="469.20" cy="462.13" r="2.15" fill="#2af52a"/>
<circle cx="471.59" cy="462.70" r="2.15" fill="#2af52a"/>
<circle cx="473.98" cy="463.21" r="2.15" fill="#2af52a"/>
<circle cx="476.37" cy="463.66" r="2.15" fill="#2af52a"/>
<circle cx="478.76" cy="464.05" r="2.15" fill="#2af52a"/>
<circle cx="481.15" cy="464.41" r="2.15" fill="#2af52a"/>
<circle cx="483.54" cy="464.72" r="2.15" fill="#2af52a"/>
<circle cx="485.93" cy="465.00" r="2.15" fill="#2af52a"/>
<circle cx="488.32" cy="465.26" r="2.15" fill="#2af52a"/>
<circle cx="490.71" cy="465.49" r="2.15" fill="#2af52a"/>
<circle cx="493.10" cy="465.70" r="2.15" fill="#2af52a"/>
<circle cx="495.49" cy="465.89" r="2.15" fill="#2af52a"/>
<circle cx="497.88" cy="466.06" r="2.15" fill="#2af52a"/>
<circle cx="500.27" cy="466.22" r="2.15" fill="#2af52a"/>
<circle cx="502.66" cy="466.37" r="2.15" fill="#2af52a"/>
<circle cx="505.05" cy="466.50" r="2.15" fill="#2af52a"/>
<circle cx="507.44" cy="466.62" r="2.15" fill="#2af52a"/>
<circle cx="509.83" cy="466.74" r="2.15" fill="#2af52a"/>
<circle cx="512.22" cy="466.84" r="2.15" fill="#2af52a"/>
<path d="M299.10,469.17 L299.60,469.17 L300.10,469.17 L300.60,469.17 L301.10,469.17 L301.60,469.17 L302.10,469.17 L302.60,469.17 L303.10,469.17 L303.60,469.17 L304.10,469.17 L304.60,469.17 L305.10,469.17 L305.60,469.17 L306.10,469.17 L306.60,469.17 L307.10,469.17 L307.60,469.16 L308.10,469.16 L308.60,469.16 L309.10,469.16 L309.60,469.16 L310.10,469.16 L310.60,469.16 L311.10,469.16 L311.60,469.16 L312.10,469.16 L312.60,469.16 L313.10,469.16 L313.60,469.16 L314.10,469.16 L314.60,469.16 L315.10,469.16 L315.60,469.16 L316.10,469.16 L316.60,469.16 L317.10,469.16 L317.60,469.16 L318.10,469.16 L318.60,469.16 L319.10,469.16 L319.60,469.16 L320.10,469.16 L320.60,469.16 L321.10,469.16 L321.60,469.16 L322.10,469.16 L322.60,469.16 L323.10,469.16 L323.60,469.16 L324.10,469.16 L324.60,469.16 L325.10,469.15 L325.60,469.15 L326.10,469.15 L326.60,469.15 L327.10,469.15 L327.60,469.15 L328.10,469.15 L328.60,469.15 L329.10,469.15 L329.60,469.15 L330.10,469.15 L330.60,469.15 L331.10,469.15 L331.60,469.15 L332.10,469.15 L332.60,469.15 L333.10,469.15 L333.60,469.15 L334.10,469.15 L334.60,469.15 L335.10,469.15 L335.60,469.15 L336.10,469.15 L336.60,469.15 L337.10,469.15 L337.60,469.15 L338.10,469.14 L338.60,469.14 L339.10,469.14 L339.60,469.14 L340.10,469.14 L340.60,469.14 L341.10,469.14 L341.60,469.14 L342.10,469.14 L342.60,469.14 L343.10,469.14 L343.60,469.14 L344.10,469.14 L344.60,469.14 L345.10,469.14 L345.60,469.14 L346.10,469.14 L346.60,469.14 L347.10,469.14 L347.60,469.13 L348.10,469.13 L348.60,469.13 L349.10,469.13 L349.60,469.13 L350.10,469.13 L350.60,469.13 L351.10,469.13 L351.60,469.13 L352.10,469.13 L352.60,469.13 L353.10,469.13 L353.60,469.13 L354.10,469.13 L354.60,469.13 L355.10,469.12 L355.60,469.12 L356.10,469.12 L356.60,469.12 L357.10,469.12 L357.60,469.12 L358.10,469.12 L358.60,469.12 L359.10,469.12 L359.60,469.12 L360.10,469.12 L360.60,469.12 L361.10,469.12 L361.60,469.11 L362.10,469.11 L362.60,469.11 L363.10,469.11 L363.60,469.11 L364.10,469.11 L364.60,469.11 L365.10,469.11 L365.60,469.11 L366.10,469.11 L366.60,469.10 L367.10,469.10 L367.60,469.10 L368.10,469.10 L368.60,469.10 L369.10,469.10 L369.60,469.10 L370.10,469.10 L370.60,469.10 L371.10,469.09 L371.60,469.09 L372.10,469.09 L372.60,469.09 L373.10,469.09 L373.60,469.09 L374.10,469.09 L374.60,469.09 L375.10,469.08 L375.60,469.08 L376.10,469.08 L376.60,469.08 L377.10,469.08 L377.60,469.08 L378.10,469.08 L378.60,469.07 L379.10,469.07 L379.60,469.07 L380.10,469.07 L380.60,469.07 L381.10,469.07 L381.60,469.06 L382.10,469.06 L382.60,469.06 L383.10,469.06 L383.60,469.06 L384.10,469.05 L384.60,469.05 L385.10,469.05 L385.60,469.05 L386.10,469.05 L386.60,469.04 L387.10,469.04 L387.60,469.04 L388.10,469.04 L388.60,469.04 L389.10,469.03 L389.60,469.03 L390.10,469.03 L390.60,469.03 L391.10,469.02 L391.60,469.02 L392.10,469.02 L392.60,469.02 L393.10,469.01 L393.60,469.01 L394.10,469.01 L394.60,469.00 L395.10,469.00 L395.60,469.00 L396.10,468.99 L396.60,468.99 L397.10,468.99 L397.60,468.98 L398.10,468.98 L398.60,468.98 L399.10,468.97 L399.60,468.97 L400.10,468.96 L400.60,468.96 L401.10,468.96 L401.60,468.95 L402.10,468.95 L402.60,468.94 L403.10,468.94 L403.60,468.93 L404.10,468.93 L404.60,468.92 L405.10,468.92 L405.60,468.91 L406.10,468.91 L406.60,468.90 L407.10,468.90 L407.60,468.89 L408.10,468.89 L408.60,468.88 L409.10,468.87 L409.60,468.87 L410.10,468.86 L410.60,468.85 L411.10,468.84 L411.60,468.84 L412.10,468.83 L412.60,468.82 L413.10,468.81 L413.60,468.81 L414.10,468.80 L414.60,468.79 L415.10,468.78 L415.60,468.77 L416.10,468.76 L416.60,468.75 L417.10,468.74 L417.60,468.73 L418.10,468.71 L418.60,468.70 L419.10,468.69 L419.60,468.68 L420.10,468.66 L420.60,468.65 L421.10,468.64 L421.60,468.62 L422.10,468.61 L422.60,468.59 L423.10,468.57 L423.60,468.56 L424.10,468.54 L424.60,468.52 L425.10,468.50 L425.60,468.48 L426.10,468.46 L426.60,468.44 L427.10,468.41 L427.60,468.39 L428.10,468.37 L428.60,468.34 L429.10,468.31 L429.60,468.28 L430.10,468.25 L430.60,468.22 L431.10,468.19 L431.60,468.15 L432.10,468.12 L432.60,468.08 L433.10,468.04 L433.60,468.00 L434.10,467.95 L434.60,467.91 L435.10,467.86 L435.60,467.81 L436.10,467.75 L436.60,467.69 L437.10,467.63 L437.60,467.57 L438.10,467.50 L438.60,467.43 L439.10,467.35 L439.60,467.27 L440.10,467.19 L440.60,467.10 L441.10,467.00 L441.60,466.90 L442.10,466.79 L442.60,466.68 L443.10,466.56 L443.60,466.43 L444.10,466.29 L444.60,466.15 L445.10,465.99 L445.60,465.83 L446.10,465.66 L446.60,465.48 L447.10,465.29 L447.60,465.09 L448.10,464.88 L448.60,464.66 L449.10,464.43 L449.60,464.19 L450.10,463.95 L450.60,463.70 L451.10,463.44 L451.60,463.19 L452.10,462.93 L452.60,462.68 L453.10,462.44 L453.60,462.21 L454.10,461.99 L454.60,461.80 L455.10,461.63 L455.60,461.50 L456.10,461.39 L456.60,461.33 L457.10,461.30 L457.60,461.31 L458.10,461.34 L458.60,461.41 L459.10,461.49 L459.60,461.60 L460.10,461.74 L460.60,461.89 L461.10,462.05 L461.60,462.24 L462.10,462.43 L462.60,462.63 L463.10,462.84 L463.60,463.05 L464.10,463.26 L464.60,463.48 L465.10,463.69 L465.60,463.90 L466.10,464.10 L466.60,464.30 L467.10,464.50 L467.60,464.69 L468.10,464.87 L468.60,465.05 L469.10,465.22 L469.60,465.38 L470.10,465.54 L470.60,465.68 L471.10,465.83 L471.60,465.96 L472.10,466.09 L472.60,466.22 L473.10,466.33 L473.60,466.45 L474.10,466.55 L474.60,466.65 L475.10,466.75 L475.60,466.84 L476.10,466.93 L476.60,467.01 L477.10,467.09 L477.60,467.17 L478.10,467.24 L478.60,467.31 L479.10,467.38 L479.60,467.44 L480.10,467.50 L480.60,467.56 L481.10,467.61 L481.60,467.66 L482.10,467.71 L482.60,467.76 L483.10,467.80 L483.60,467.85 L484.10,467.89 L484.60,467.93 L485.10,467.97 L485.60,468.00 L486.10,468.04 L486.60,468.07 L487.10,468.10 L487.60,468.13 L488.10,468.16 L488.60,468.19 L489.10,468.22 L489.60,468.25 L490.10,468.27 L490.60,468.30 L491.10,468.32 L491.60,468.34 L492.10,468.36 L492.60,468.39 L493.10,468.41 L493.60,468.43 L494.10,468.44 L494.60,468.46 L495.10,468.48 L495.60,468.50 L496.10,468.51 L496.60,468.53 L497.10,468.54 L497.60,468.56 L498.10,468.57 L498.60,468.59 L499.10,468.60 L499.60,468.61 L500.10,468.63 L500.60,468.64 L501.10,468.65 L501.60,468.66 L502.10,468.67 L502.60,468.68 L503.10,468.69 L503.60,468.70 L504.10,468.71 L504.60,468.72 L505.10,468.73 L505.60,468.74 L506.10,468.75 L506.60,468.76 L507.10,468.77 L507.60,468.78 L508.10,468.78 L508.60,468.79 L509.10,468.80 L509.60,468.81 L510.10,468.81 L510.60,468.82 L511.10,468.83 L511.60,468.83 L512.10,468.84 L512.60,468.85 L513.10,468.85 L513.60,468.86" fill="none" stroke="#8b2020" stroke-width="1.4"/>
<path d="M299.50,465.40 L300.56,466.11 L301.93,465.78 L303.56,464.77 L305.39,465.21 L307.35,464.76 L309.38,464.00 L311.43,465.08 L313.42,465.51 L315.30,464.94 L317.00,464.39 L318.57,464.79 L320.09,465.13 L321.57,465.08 L323.02,464.66 L324.44,464.82 L325.85,464.27 L327.24,462.65 L328.62,462.43 L330.01,463.22 L331.40,463.39 L332.81,463.56 L334.24,463.93 L335.67,464.33 L337.09,464.18 L338.51,463.67 L339.89,463.77 L341.25,463.60 L342.56,462.90 L343.81,462.28 L345.00,461.80 L346.12,461.86 L347.16,461.87 L348.15,461.91 L349.09,462.02 L350.00,462.13 L350.89,462.29 L351.77,462.36 L352.66,462.29 L353.56,462.10 L354.50,461.68 L355.46,460.77 L356.42,459.50 L357.38,458.82 L358.34,459.08 L359.30,459.39 L360.26,459.35 L361.22,459.00 L362.18,458.52 L363.14,457.97 L364.10,457.24 L365.07,456.48 L366.07,456.19 L367.09,456.14 L368.10,455.46 L369.11,454.51 L370.10,454.18 L371.05,454.15 L371.96,453.78 L372.82,453.22 L373.60,452.54 L374.31,451.67 L374.96,450.69 L375.56,449.84 L376.11,449.26 L377.12,448.64 L378.06,448.13 L379.00,447.45 L379.94,446.70 L380.83,445.76 L381.68,444.61 L382.47,443.60 L383.20,442.83 L383.83,442.22 L384.37,441.65 L384.87,440.96 L385.39,440.11 L385.68,439.59 L386.00,438.97 L386.35,438.21 L386.73,437.25 L387.14,436.07 L387.55,434.66 L387.98,433.10 L388.40,431.51 L388.81,430.01 L389.20,428.68 L389.57,427.55 L389.90,426.58 L390.20,425.68 L390.48,424.79 L390.75,423.90 L390.99,422.99 L391.22,422.05 L391.45,421.06 L391.66,420.04 L391.88,418.99 L392.09,417.92 L392.30,416.83 L392.51,415.74 L392.71,414.69 L392.91,413.66 L393.10,412.65 L393.29,411.67 L393.47,410.69 L393.65,409.73 L393.83,408.75 L394.02,407.75 L394.20,406.72 L394.38,405.67 L394.56,404.59 L394.74,403.49 L394.92,402.37 L395.10,401.21 L395.28,400.03 L395.46,398.82 L395.64,397.58 L395.82,396.31 L396.00,395.02 L396.19,393.67 L396.39,392.22 L396.59,390.72 L396.80,389.17 L397.01,387.62 L397.21,386.07 L397.40,384.57 L397.58,383.15 L397.75,381.82 L397.90,380.63 L398.03,379.60 L398.14,378.70 L398.23,377.91 L398.39,376.57 L398.53,375.35 L398.70,374.03 L398.80,373.26 L398.91,372.42 L399.04,371.56 L399.16,370.69 L399.30,369.80 L399.43,368.90 L399.57,367.99 L399.70,367.08 L399.84,366.16 L399.97,365.24 L400.10,364.32 L400.22,363.40 L400.35,362.46 L400.47,361.50 L400.59,360.53 L400.71,359.56 L400.83,358.59 L400.95,357.62 L401.07,356.66 L401.18,355.71 L401.30,354.78 L401.41,353.85 L401.53,352.92 L401.64,351.99 L401.76,351.07 L401.87,350.15 L401.98,349.24 L402.09,348.35 L402.19,347.48 L402.30,346.63 L402.40,345.81 L402.50,345.01 L402.59,344.23 L402.69,343.46 L402.78,342.71 L402.87,341.99 L402.96,341.28 L403.13,339.94 L403.30,338.70 L403.46,337.60 L403.60,336.60 L403.74,335.69 L403.90,334.86 L404.10,334.07 L404.34,333.34 L404.60,332.68 L404.88,332.12 L405.34,331.42 L405.84,330.77 L406.20,330.28 L406.75,329.62 L407.47,329.47 L407.97,330.40 L408.30,331.44 L408.64,332.66 L409.00,333.87 L409.37,334.80 L409.75,335.35 L410.15,335.50 L410.56,335.38 L411.00,335.23 L411.47,335.32 L411.96,335.96 L412.48,337.29 L412.99,338.98 L413.50,340.55 L414.00,341.88 L414.50,343.06 L415.00,344.12 L415.50,345.07 L416.00,345.88 L416.50,346.60 L417.01,347.29 L417.51,348.04 L418.01,348.89 L418.50,349.79 L418.99,350.69 L419.47,351.60 L419.95,352.51 L420.39,353.49 L420.80,354.53 L421.15,355.60 L421.45,356.70 L421.72,357.77 L422.00,358.79 L422.30,359.68 L422.63,360.42 L422.97,361.04 L423.31,361.61 L423.66,362.21 L424.00,362.89 L424.34,363.67 L424.68,364.52 L425.02,365.49 L425.36,366.60 L425.70,367.88 L426.03,369.28 L426.34,370.72 L426.50,371.47 L426.66,372.22 L426.83,373.00 L427.01,373.80 L427.20,374.63 L427.40,375.50 L427.62,376.41 L427.85,377.40 L428.09,378.45 L428.34,379.57 L428.59,380.76 L428.85,382.02 L429.12,383.32 L429.38,384.65 L429.64,385.98 L429.90,387.29 L430.16,388.59 L430.42,389.91 L430.68,391.22 L430.94,392.52 L431.20,393.82 L431.46,395.13 L431.72,396.43 L431.98,397.70 L432.24,398.94 L432.50,400.13 L432.75,401.25 L432.99,402.29 L433.23,403.26 L433.46,404.15 L433.69,404.98 L433.93,405.77 L434.18,406.56 L434.44,407.35 L434.71,408.18 L435.00,409.09 L435.31,410.13 L435.64,411.35 L435.98,412.71 L436.33,414.15 L436.69,415.62 L437.06,417.07 L437.43,418.43 L437.79,419.66 L438.15,420.80 L438.50,421.82 L438.84,422.72 L439.17,423.54 L439.50,424.26 L439.83,424.92 L440.16,425.48 L440.49,425.98 L441.17,426.87 L441.90,427.84 L442.29,428.39 L442.71,428.97 L443.14,429.56 L443.58,430.18 L444.48,431.50 L445.33,432.97 L446.10,434.23 L446.72,435.07 L447.24,435.68 L447.99,436.35 L448.62,436.68 L449.42,436.68 L450.35,436.58 L451.38,437.22 L452.49,438.48 L453.68,439.54 L454.30,440.01 L454.95,440.38 L455.66,440.49 L456.40,440.36 L457.17,440.33 L457.94,440.77 L458.72,441.48 L459.47,442.02 L460.20,442.16 L460.88,442.13 L461.50,442.20 L462.58,442.94 L463.52,443.88 L464.38,444.73 L465.22,445.55 L466.10,446.30 L467.00,446.92 L467.88,447.60 L468.77,448.58 L469.73,449.89 L470.80,450.80 L472.03,450.30 L473.39,449.29 L474.10,448.99 L474.81,448.85 L475.52,448.88 L476.87,449.21 L478.09,449.02 L479.19,448.62 L480.23,448.56 L481.28,449.37 L482.39,449.45 L483.64,447.91 L484.98,448.03 L485.68,448.21 L486.39,448.08 L487.11,447.72 L487.84,447.27 L488.56,446.80 L489.29,446.21 L490.00,445.74 L490.71,445.63 L491.43,445.88 L492.15,446.11 L492.87,445.91 L493.59,445.32 L494.31,444.66 L495.03,444.22 L495.76,443.98 L496.48,443.78 L497.20,443.47 L497.91,443.04 L498.61,442.61 L499.31,442.30 L500.00,442.13 L500.70,442.01 L501.40,441.81 L502.12,441.50 L502.86,441.12 L503.62,440.71 L504.40,440.22 L505.25,439.71 L506.20,439.53 L507.20,439.84 L508.23,440.05 L509.25,439.75 L510.24,439.30 L511.16,439.06 L511.98,438.73 L512.67,438.11 L513.20,437.42" fill="none" stroke="#0c0ca6" stroke-width="2.8" stroke-linejoin="round"/>
<path d="M299.50,465.70 C302.42,465.60 311.68,465.37 317.00,465.10 C322.32,464.83 326.73,464.47 331.40,464.10 C336.07,463.73 341.15,463.33 345.00,462.90 C348.85,462.47 351.32,462.30 354.50,461.50 C357.68,460.70 360.92,459.70 364.10,458.10 C367.28,456.50 371.12,453.67 373.60,451.90 C376.08,450.13 377.40,448.90 379.00,447.50 C380.60,446.10 382.03,445.00 383.20,443.50 C384.37,442.00 384.88,441.25 386.00,438.50 C387.12,435.75 388.85,430.58 389.90,427.00 C390.95,423.42 391.58,420.30 392.30,417.00 C393.02,413.70 393.58,410.90 394.20,407.20 C394.82,403.50 395.38,399.33 396.00,394.80 C396.62,390.27 397.43,383.63 397.90,380.00 C398.37,376.37 398.43,375.53 398.80,373.00 C399.17,370.47 399.68,367.72 400.10,364.80 C400.52,361.88 400.92,358.53 401.30,355.50 C401.68,352.47 402.07,349.27 402.40,346.60 C402.73,343.93 403.02,341.47 403.30,339.50 C403.58,337.53 403.73,336.13 404.10,334.80 C404.47,333.47 404.97,332.42 405.50,331.50 C406.03,330.58 406.72,329.13 407.30,329.30 C407.88,329.47 408.38,331.38 409.00,332.50 C409.62,333.62 410.25,334.62 411.00,336.00 C411.75,337.38 412.67,339.25 413.50,340.80 C414.33,342.35 415.17,343.77 416.00,345.30 C416.83,346.83 417.70,348.47 418.50,350.00 C419.30,351.53 420.17,352.92 420.80,354.50 C421.43,356.08 421.77,358.00 422.30,359.50 C422.83,361.00 423.43,362.08 424.00,363.50 C424.57,364.92 425.13,365.98 425.70,368.00 C426.27,370.02 426.70,372.35 427.40,375.60 C428.10,378.85 429.05,383.53 429.90,387.50 C430.75,391.47 431.65,395.70 432.50,399.40 C433.35,403.10 434.00,406.00 435.00,409.70 C436.00,413.40 437.35,418.48 438.50,421.60 C439.65,424.72 440.63,426.42 441.90,428.40 C443.17,430.38 444.92,432.20 446.10,433.50 C447.28,434.80 447.63,435.23 449.00,436.20 C450.37,437.17 452.22,438.18 454.30,439.30 C456.38,440.42 459.53,441.78 461.50,442.90 C463.47,444.02 464.55,445.05 466.10,446.00 C467.65,446.95 468.90,448.17 470.80,448.60 C472.70,449.03 475.47,448.72 477.50,448.60 C479.53,448.48 480.92,448.25 483.00,447.90 C485.08,447.55 487.63,447.22 490.00,446.50 C492.37,445.78 494.80,444.57 497.20,443.60 C499.60,442.63 501.73,441.75 504.40,440.70 C507.07,439.65 511.73,437.87 513.20,437.30" fill="none" stroke="#ff00ff" stroke-width="1.0"/>
<text x="313.2" y="341.3" font-size="16.3" fill="#000" text-anchor="start" font-weight="bold" stroke="#000" stroke-width="0.35">(c)</text>
<text x="417.6" y="327.8" font-size="13.5" fill="#0c0ca6" text-anchor="start" font-weight="bold" stroke="#0c0ca6" stroke-width="0.35">BBO/MgO(100)</text>
<text x="446.5" y="344.6" font-size="13.5" fill="#8000ff" text-anchor="start" font-weight="bold" stroke="#8000ff" stroke-width="0.35">at 300K</text>
<line x1="30.7" y1="374.5" x2="49.8" y2="374.5" stroke="#2af52a" stroke-width="1.5"/>
<text x="52.5" y="377.1" font-size="11.8" font-weight="bold" stroke="#000" stroke-width="0.35">A<tspan font-size="8.6" dy="3.4">g</tspan><tspan dy="-3.4"> 298</tspan></text>
<line x1="30.7" y1="392.1" x2="49.8" y2="392.1" stroke="#2af52a" stroke-width="1.5"/>
<circle cx="40.25" cy="392.1" r="2.1" fill="#2af52a"/>
<text x="52.5" y="394.7" font-size="11.8" font-weight="bold" stroke="#000" stroke-width="0.35">A<tspan font-size="8.6" dy="3.4">g</tspan><tspan dy="-3.4"> 314</tspan></text>
<line x1="30.7" y1="409.6" x2="49.8" y2="409.6" stroke="#8b2020" stroke-width="1.8"/>
<text x="52.5" y="412.8" font-size="11.8" font-weight="bold" stroke="#000" stroke-width="0.35">B<tspan font-size="8.6" dy="0">g</tspan><tspan dy="0"> 342</tspan></text>
<line x1="311.2" y1="372.7" x2="330.6" y2="372.7" stroke="#2af52a" stroke-width="1.5"/>
<text x="333.3" y="376.2" font-size="11.8" font-weight="bold" stroke="#000" stroke-width="0.35">A<tspan font-size="8.6" dy="3.4">g</tspan><tspan dy="-3.4"> 299</tspan></text>
<line x1="311.2" y1="391.1" x2="330.6" y2="391.1" stroke="#2af52a" stroke-width="1.5"/>
<circle cx="320.9" cy="391.1" r="2.1" fill="#2af52a"/>
<text x="333.3" y="393.9" font-size="11.8" font-weight="bold" stroke="#000" stroke-width="0.35">A<tspan font-size="8.6" dy="3.4">g</tspan><tspan dy="-3.4"> 314</tspan></text>
<line x1="311.2" y1="408.8" x2="330.6" y2="408.8" stroke="#8b2020" stroke-width="1.8"/>
<text x="333.3" y="411.4" font-size="11.8" font-weight="bold" stroke="#000" stroke-width="0.35">B<tspan font-size="8.6" dy="0">g</tspan><tspan dy="0"> 347</tspan></text>
<text x="14.2" y="481" font-size="16.6" fill="#000" text-anchor="start" transform="rotate(-90 14.2 481)" font-weight="bold" stroke="#000" stroke-width="0.35">intensity (arb. units)</text>
<text x="288.6" y="481.7" font-size="16.68" fill="#000" text-anchor="start" transform="rotate(-90 288.6 481.7)" font-weight="bold" stroke="#000" stroke-width="0.35">intensity (arb. units)</text>
<text x="60.8" y="522.3" font-size="16.57" font-weight="bold" stroke="#000" stroke-width="0.35">Raman Shift (cm<tspan font-size="8.8" dx="0.6" dy="-9.8">-</tspan><tspan font-size="8.8" dx="1.0">1</tspan><tspan dx="-0.3" dy="9.8">)</tspan></text>
<text x="339.8" y="522.3" font-size="16.57" font-weight="bold" stroke="#000" stroke-width="0.35">Raman Shift (cm<tspan font-size="8.8" dx="0.6" dy="-10.7">-</tspan><tspan font-size="8.8" dx="1.0">1</tspan><tspan dx="-0.3" dy="10.7">)</tspan></text>
</svg></body></html>
